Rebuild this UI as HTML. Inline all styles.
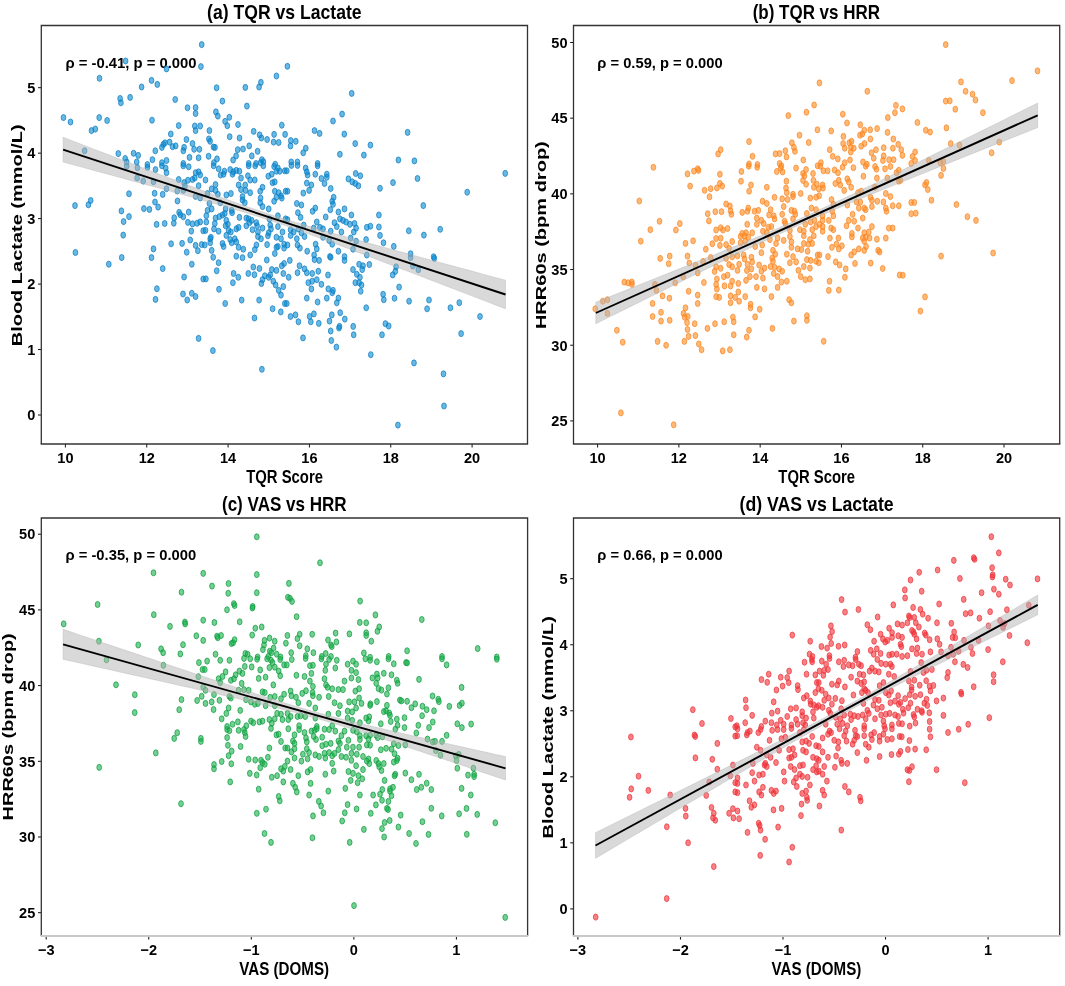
<!DOCTYPE html><html><head><meta charset="utf-8"><style>html,body{margin:0;padding:0;background:#fff;width:1065px;height:986px;overflow:hidden}svg{display:block}text{font-family:"Liberation Sans",sans-serif;font-weight:bold}</style></head><body>
<svg style="will-change:transform" width="1065" height="986" viewBox="0 0 1065 986">
<rect width="1065" height="986" fill="#fff"/>
<text transform="translate(207.12,18.90) scale(0.8867,1)" font-size="19.86" fill="#000">(a) TQR vs Lactate</text>
<text transform="translate(65.41,67.50) scale(1.0604,1)" font-size="14.00" fill="#000">ρ = -0.41, p = 0.000</text>
<text transform="translate(246.15,482.70) scale(0.8406,1)" font-size="17.68" fill="#000">TQR Score</text>
<text transform="translate(21.50,346.30) rotate(-90) scale(0.9995,0.7101)" font-size="20.00">Blood Lactate (mmol/L)</text>
<text x="65.40" y="462.80" font-size="15" text-anchor="middle" transform="translate(1.96,0) scale(0.97,1)">10</text>
<text x="146.74" y="462.80" font-size="15" text-anchor="middle" transform="translate(4.40,0) scale(0.97,1)">12</text>
<text x="228.08" y="462.80" font-size="15" text-anchor="middle" transform="translate(6.84,0) scale(0.97,1)">14</text>
<text x="309.42" y="462.80" font-size="15" text-anchor="middle" transform="translate(9.28,0) scale(0.97,1)">16</text>
<text x="390.76" y="462.80" font-size="15" text-anchor="middle" transform="translate(11.72,0) scale(0.97,1)">18</text>
<text x="472.10" y="462.80" font-size="15" text-anchor="middle" transform="translate(14.16,0) scale(0.97,1)">20</text>
<text x="35.30" y="420.30" font-size="15" text-anchor="end" transform="translate(1.06,0) scale(0.97,1)">0</text>
<text x="35.30" y="354.84" font-size="15" text-anchor="end" transform="translate(1.06,0) scale(0.97,1)">1</text>
<text x="35.30" y="289.38" font-size="15" text-anchor="end" transform="translate(1.06,0) scale(0.97,1)">2</text>
<text x="35.30" y="223.92" font-size="15" text-anchor="end" transform="translate(1.06,0) scale(0.97,1)">3</text>
<text x="35.30" y="158.46" font-size="15" text-anchor="end" transform="translate(1.06,0) scale(0.97,1)">4</text>
<text x="35.30" y="93.00" font-size="15" text-anchor="end" transform="translate(1.06,0) scale(0.97,1)">5</text>
<path d="M65.40 443.90v3.6 M146.74 443.90v3.6 M228.08 443.90v3.6 M309.42 443.90v3.6 M390.76 443.90v3.6 M472.10 443.90v3.6 M41.30 415.00h-3.3 M41.30 349.54h-3.3 M41.30 284.08h-3.3 M41.30 218.62h-3.3 M41.30 153.16h-3.3 M41.30 87.70h-3.3" stroke="#111" stroke-width="1" fill="none"/>
<g fill="rgb(0,138,208)" fill-opacity="0.6" stroke="rgb(20,125,195)" stroke-opacity="0.75" stroke-width="1.0"><ellipse cx="201.7" cy="44.6" rx="2.35" ry="3.05"/><ellipse cx="200.9" cy="66.6" rx="2.35" ry="3.05"/><ellipse cx="125.6" cy="61.0" rx="2.35" ry="3.05"/><ellipse cx="166.5" cy="68.9" rx="2.35" ry="3.05"/><ellipse cx="99.5" cy="78.3" rx="2.35" ry="3.05"/><ellipse cx="141.6" cy="87.0" rx="2.35" ry="3.05"/><ellipse cx="151.5" cy="80.4" rx="2.35" ry="3.05"/><ellipse cx="157.3" cy="84.4" rx="2.35" ry="3.05"/><ellipse cx="120.1" cy="98.5" rx="2.35" ry="3.05"/><ellipse cx="120.9" cy="102.8" rx="2.35" ry="3.05"/><ellipse cx="130.1" cy="97.4" rx="2.35" ry="3.05"/><ellipse cx="175.2" cy="99.5" rx="2.35" ry="3.05"/><ellipse cx="187.5" cy="107.8" rx="2.35" ry="3.05"/><ellipse cx="195.6" cy="107.6" rx="2.35" ry="3.05"/><ellipse cx="195.6" cy="113.5" rx="2.35" ry="3.05"/><ellipse cx="63.5" cy="117.6" rx="2.35" ry="3.05"/><ellipse cx="70.5" cy="122.0" rx="2.35" ry="3.05"/><ellipse cx="99.2" cy="117.6" rx="2.35" ry="3.05"/><ellipse cx="107.1" cy="120.5" rx="2.35" ry="3.05"/><ellipse cx="152.0" cy="120.2" rx="2.35" ry="3.05"/><ellipse cx="91.5" cy="130.6" rx="2.35" ry="3.05"/><ellipse cx="95.3" cy="129.1" rx="2.35" ry="3.05"/><ellipse cx="178.7" cy="125.6" rx="2.35" ry="3.05"/><ellipse cx="194.8" cy="126.0" rx="2.35" ry="3.05"/><ellipse cx="200.2" cy="126.0" rx="2.35" ry="3.05"/><ellipse cx="195.6" cy="130.6" rx="2.35" ry="3.05"/><ellipse cx="170.8" cy="134.0" rx="2.35" ry="3.05"/><ellipse cx="186.4" cy="139.5" rx="2.35" ry="3.05"/><ellipse cx="169.6" cy="142.1" rx="2.35" ry="3.05"/><ellipse cx="163.4" cy="144.4" rx="2.35" ry="3.05"/><ellipse cx="165.0" cy="142.8" rx="2.35" ry="3.05"/><ellipse cx="161.9" cy="147.4" rx="2.35" ry="3.05"/><ellipse cx="172.6" cy="146.7" rx="2.35" ry="3.05"/><ellipse cx="175.7" cy="145.9" rx="2.35" ry="3.05"/><ellipse cx="184.1" cy="147.4" rx="2.35" ry="3.05"/><ellipse cx="183.3" cy="150.8" rx="2.35" ry="3.05"/><ellipse cx="192.5" cy="143.6" rx="2.35" ry="3.05"/><ellipse cx="194.1" cy="149.3" rx="2.35" ry="3.05"/><ellipse cx="199.4" cy="149.3" rx="2.35" ry="3.05"/><ellipse cx="84.6" cy="150.8" rx="2.35" ry="3.05"/><ellipse cx="118.3" cy="153.6" rx="2.35" ry="3.05"/><ellipse cx="133.6" cy="153.3" rx="2.35" ry="3.05"/><ellipse cx="138.2" cy="155.4" rx="2.35" ry="3.05"/><ellipse cx="155.3" cy="150.8" rx="2.35" ry="3.05"/><ellipse cx="125.2" cy="158.5" rx="2.35" ry="3.05"/><ellipse cx="126.7" cy="162.0" rx="2.35" ry="3.05"/><ellipse cx="136.7" cy="162.0" rx="2.35" ry="3.05"/><ellipse cx="152.4" cy="159.7" rx="2.35" ry="3.05"/><ellipse cx="189.5" cy="157.4" rx="2.35" ry="3.05"/><ellipse cx="198.6" cy="157.8" rx="2.35" ry="3.05"/><ellipse cx="166.5" cy="160.5" rx="2.35" ry="3.05"/><ellipse cx="161.9" cy="162.7" rx="2.35" ry="3.05"/><ellipse cx="147.4" cy="164.6" rx="2.35" ry="3.05"/><ellipse cx="183.3" cy="163.5" rx="2.35" ry="3.05"/><ellipse cx="287.4" cy="66.3" rx="2.35" ry="3.05"/><ellipse cx="276.4" cy="76.0" rx="2.35" ry="3.05"/><ellipse cx="260.9" cy="82.4" rx="2.35" ry="3.05"/><ellipse cx="259.1" cy="87.0" rx="2.35" ry="3.05"/><ellipse cx="245.3" cy="87.4" rx="2.35" ry="3.05"/><ellipse cx="216.6" cy="87.8" rx="2.35" ry="3.05"/><ellipse cx="351.7" cy="93.4" rx="2.35" ry="3.05"/><ellipse cx="222.4" cy="101.1" rx="2.35" ry="3.05"/><ellipse cx="246.9" cy="106.1" rx="2.35" ry="3.05"/><ellipse cx="215.9" cy="111.9" rx="2.35" ry="3.05"/><ellipse cx="217.8" cy="116.1" rx="2.35" ry="3.05"/><ellipse cx="229.3" cy="117.3" rx="2.35" ry="3.05"/><ellipse cx="225.1" cy="121.4" rx="2.35" ry="3.05"/><ellipse cx="227.3" cy="125.7" rx="2.35" ry="3.05"/><ellipse cx="238.0" cy="124.5" rx="2.35" ry="3.05"/><ellipse cx="281.8" cy="125.2" rx="2.35" ry="3.05"/><ellipse cx="342.1" cy="114.1" rx="2.35" ry="3.05"/><ellipse cx="333.0" cy="121.0" rx="2.35" ry="3.05"/><ellipse cx="209.4" cy="130.6" rx="2.35" ry="3.05"/><ellipse cx="253.7" cy="131.4" rx="2.35" ry="3.05"/><ellipse cx="259.6" cy="134.9" rx="2.35" ry="3.05"/><ellipse cx="261.4" cy="138.0" rx="2.35" ry="3.05"/><ellipse cx="267.1" cy="139.5" rx="2.35" ry="3.05"/><ellipse cx="274.1" cy="134.4" rx="2.35" ry="3.05"/><ellipse cx="273.6" cy="142.1" rx="2.35" ry="3.05"/><ellipse cx="278.7" cy="142.5" rx="2.35" ry="3.05"/><ellipse cx="285.1" cy="134.4" rx="2.35" ry="3.05"/><ellipse cx="290.8" cy="140.6" rx="2.35" ry="3.05"/><ellipse cx="295.8" cy="141.3" rx="2.35" ry="3.05"/><ellipse cx="290.5" cy="145.9" rx="2.35" ry="3.05"/><ellipse cx="314.5" cy="130.6" rx="2.35" ry="3.05"/><ellipse cx="319.6" cy="133.4" rx="2.35" ry="3.05"/><ellipse cx="344.3" cy="134.1" rx="2.35" ry="3.05"/><ellipse cx="355.2" cy="143.6" rx="2.35" ry="3.05"/><ellipse cx="229.7" cy="136.7" rx="2.35" ry="3.05"/><ellipse cx="239.5" cy="138.0" rx="2.35" ry="3.05"/><ellipse cx="208.9" cy="139.0" rx="2.35" ry="3.05"/><ellipse cx="210.1" cy="141.3" rx="2.35" ry="3.05"/><ellipse cx="213.5" cy="147.1" rx="2.35" ry="3.05"/><ellipse cx="215.0" cy="147.4" rx="2.35" ry="3.05"/><ellipse cx="249.2" cy="145.9" rx="2.35" ry="3.05"/><ellipse cx="243.0" cy="149.0" rx="2.35" ry="3.05"/><ellipse cx="237.7" cy="149.7" rx="2.35" ry="3.05"/><ellipse cx="236.1" cy="155.9" rx="2.35" ry="3.05"/><ellipse cx="233.1" cy="160.0" rx="2.35" ry="3.05"/><ellipse cx="251.8" cy="155.9" rx="2.35" ry="3.05"/><ellipse cx="257.6" cy="151.3" rx="2.35" ry="3.05"/><ellipse cx="208.6" cy="156.3" rx="2.35" ry="3.05"/><ellipse cx="217.0" cy="158.9" rx="2.35" ry="3.05"/><ellipse cx="213.9" cy="162.7" rx="2.35" ry="3.05"/><ellipse cx="261.9" cy="159.7" rx="2.35" ry="3.05"/><ellipse cx="260.6" cy="162.7" rx="2.35" ry="3.05"/><ellipse cx="263.4" cy="161.7" rx="2.35" ry="3.05"/><ellipse cx="248.7" cy="163.5" rx="2.35" ry="3.05"/><ellipse cx="256.0" cy="163.5" rx="2.35" ry="3.05"/><ellipse cx="275.2" cy="164.3" rx="2.35" ry="3.05"/><ellipse cx="291.2" cy="162.0" rx="2.35" ry="3.05"/><ellipse cx="297.4" cy="162.0" rx="2.35" ry="3.05"/><ellipse cx="305.8" cy="148.2" rx="2.35" ry="3.05"/><ellipse cx="303.2" cy="152.8" rx="2.35" ry="3.05"/><ellipse cx="317.6" cy="163.5" rx="2.35" ry="3.05"/><ellipse cx="339.9" cy="154.3" rx="2.35" ry="3.05"/><ellipse cx="363.9" cy="155.1" rx="2.35" ry="3.05"/><ellipse cx="407.6" cy="132.4" rx="2.35" ry="3.05"/><ellipse cx="370.4" cy="145.1" rx="2.35" ry="3.05"/><ellipse cx="398.4" cy="160.0" rx="2.35" ry="3.05"/><ellipse cx="414.4" cy="160.9" rx="2.35" ry="3.05"/><ellipse cx="126.7" cy="166.2" rx="2.35" ry="3.05"/><ellipse cx="137.4" cy="167.8" rx="2.35" ry="3.05"/><ellipse cx="147.4" cy="167.3" rx="2.35" ry="3.05"/><ellipse cx="155.5" cy="169.6" rx="2.35" ry="3.05"/><ellipse cx="161.9" cy="165.8" rx="2.35" ry="3.05"/><ellipse cx="165.7" cy="168.1" rx="2.35" ry="3.05"/><ellipse cx="166.5" cy="172.7" rx="2.35" ry="3.05"/><ellipse cx="183.3" cy="165.8" rx="2.35" ry="3.05"/><ellipse cx="188.7" cy="166.8" rx="2.35" ry="3.05"/><ellipse cx="195.6" cy="172.7" rx="2.35" ry="3.05"/><ellipse cx="198.6" cy="171.9" rx="2.35" ry="3.05"/><ellipse cx="200.2" cy="174.9" rx="2.35" ry="3.05"/><ellipse cx="137.1" cy="178.0" rx="2.35" ry="3.05"/><ellipse cx="143.2" cy="181.1" rx="2.35" ry="3.05"/><ellipse cx="153.5" cy="181.8" rx="2.35" ry="3.05"/><ellipse cx="178.7" cy="179.5" rx="2.35" ry="3.05"/><ellipse cx="184.1" cy="182.6" rx="2.35" ry="3.05"/><ellipse cx="187.9" cy="180.3" rx="2.35" ry="3.05"/><ellipse cx="192.5" cy="179.5" rx="2.35" ry="3.05"/><ellipse cx="194.8" cy="178.0" rx="2.35" ry="3.05"/><ellipse cx="198.6" cy="185.7" rx="2.35" ry="3.05"/><ellipse cx="184.9" cy="186.4" rx="2.35" ry="3.05"/><ellipse cx="166.5" cy="188.7" rx="2.35" ry="3.05"/><ellipse cx="177.2" cy="191.0" rx="2.35" ry="3.05"/><ellipse cx="183.3" cy="190.3" rx="2.35" ry="3.05"/><ellipse cx="129.0" cy="193.8" rx="2.35" ry="3.05"/><ellipse cx="154.6" cy="193.3" rx="2.35" ry="3.05"/><ellipse cx="162.7" cy="194.4" rx="2.35" ry="3.05"/><ellipse cx="195.6" cy="196.4" rx="2.35" ry="3.05"/><ellipse cx="200.2" cy="197.9" rx="2.35" ry="3.05"/><ellipse cx="177.5" cy="201.0" rx="2.35" ry="3.05"/><ellipse cx="75.0" cy="205.6" rx="2.35" ry="3.05"/><ellipse cx="88.4" cy="204.8" rx="2.35" ry="3.05"/><ellipse cx="90.7" cy="200.5" rx="2.35" ry="3.05"/><ellipse cx="121.4" cy="210.9" rx="2.35" ry="3.05"/><ellipse cx="129.0" cy="216.6" rx="2.35" ry="3.05"/><ellipse cx="123.6" cy="221.6" rx="2.35" ry="3.05"/><ellipse cx="143.9" cy="208.6" rx="2.35" ry="3.05"/><ellipse cx="149.4" cy="209.4" rx="2.35" ry="3.05"/><ellipse cx="155.0" cy="202.0" rx="2.35" ry="3.05"/><ellipse cx="158.1" cy="207.1" rx="2.35" ry="3.05"/><ellipse cx="179.1" cy="212.4" rx="2.35" ry="3.05"/><ellipse cx="183.3" cy="216.7" rx="2.35" ry="3.05"/><ellipse cx="188.7" cy="212.1" rx="2.35" ry="3.05"/><ellipse cx="174.2" cy="217.8" rx="2.35" ry="3.05"/><ellipse cx="173.8" cy="223.2" rx="2.35" ry="3.05"/><ellipse cx="180.3" cy="214.7" rx="2.35" ry="3.05"/><ellipse cx="187.9" cy="222.4" rx="2.35" ry="3.05"/><ellipse cx="192.5" cy="223.9" rx="2.35" ry="3.05"/><ellipse cx="197.1" cy="223.2" rx="2.35" ry="3.05"/><ellipse cx="200.2" cy="221.9" rx="2.35" ry="3.05"/><ellipse cx="156.6" cy="224.4" rx="2.35" ry="3.05"/><ellipse cx="164.7" cy="223.5" rx="2.35" ry="3.05"/><ellipse cx="191.3" cy="231.1" rx="2.35" ry="3.05"/><ellipse cx="203.2" cy="230.8" rx="2.35" ry="3.05"/><ellipse cx="123.2" cy="235.1" rx="2.35" ry="3.05"/><ellipse cx="171.1" cy="243.8" rx="2.35" ry="3.05"/><ellipse cx="182.1" cy="243.4" rx="2.35" ry="3.05"/><ellipse cx="190.2" cy="240.0" rx="2.35" ry="3.05"/><ellipse cx="195.6" cy="245.4" rx="2.35" ry="3.05"/><ellipse cx="201.7" cy="244.6" rx="2.35" ry="3.05"/><ellipse cx="197.9" cy="250.7" rx="2.35" ry="3.05"/><ellipse cx="186.7" cy="252.2" rx="2.35" ry="3.05"/><ellipse cx="153.5" cy="248.9" rx="2.35" ry="3.05"/><ellipse cx="75.4" cy="252.5" rx="2.35" ry="3.05"/><ellipse cx="121.7" cy="257.6" rx="2.35" ry="3.05"/><ellipse cx="151.5" cy="257.6" rx="2.35" ry="3.05"/><ellipse cx="108.8" cy="264.2" rx="2.35" ry="3.05"/><ellipse cx="191.8" cy="264.2" rx="2.35" ry="3.05"/><ellipse cx="162.7" cy="268.6" rx="2.35" ry="3.05"/><ellipse cx="184.1" cy="277.0" rx="2.35" ry="3.05"/><ellipse cx="203.2" cy="279.0" rx="2.35" ry="3.05"/><ellipse cx="156.9" cy="288.7" rx="2.35" ry="3.05"/><ellipse cx="183.0" cy="294.0" rx="2.35" ry="3.05"/><ellipse cx="191.8" cy="293.3" rx="2.35" ry="3.05"/><ellipse cx="195.6" cy="296.6" rx="2.35" ry="3.05"/><ellipse cx="187.2" cy="300.0" rx="2.35" ry="3.05"/><ellipse cx="155.5" cy="299.4" rx="2.35" ry="3.05"/><ellipse cx="505.2" cy="173.4" rx="2.35" ry="3.05"/><ellipse cx="417.5" cy="178.5" rx="2.35" ry="3.05"/><ellipse cx="393.0" cy="182.6" rx="2.35" ry="3.05"/><ellipse cx="380.0" cy="188.3" rx="2.35" ry="3.05"/><ellipse cx="467.2" cy="192.2" rx="2.35" ry="3.05"/><ellipse cx="423.3" cy="205.6" rx="2.35" ry="3.05"/><ellipse cx="378.9" cy="215.0" rx="2.35" ry="3.05"/><ellipse cx="370.4" cy="226.2" rx="2.35" ry="3.05"/><ellipse cx="378.9" cy="227.0" rx="2.35" ry="3.05"/><ellipse cx="408.8" cy="230.8" rx="2.35" ry="3.05"/><ellipse cx="423.9" cy="235.1" rx="2.35" ry="3.05"/><ellipse cx="440.2" cy="229.3" rx="2.35" ry="3.05"/><ellipse cx="380.0" cy="235.4" rx="2.35" ry="3.05"/><ellipse cx="383.5" cy="242.8" rx="2.35" ry="3.05"/><ellipse cx="393.8" cy="246.4" rx="2.35" ry="3.05"/><ellipse cx="410.6" cy="253.8" rx="2.35" ry="3.05"/><ellipse cx="410.6" cy="257.6" rx="2.35" ry="3.05"/><ellipse cx="434.3" cy="258.4" rx="2.35" ry="3.05"/><ellipse cx="433.6" cy="256.8" rx="2.35" ry="3.05"/><ellipse cx="369.3" cy="264.5" rx="2.35" ry="3.05"/><ellipse cx="396.1" cy="266.8" rx="2.35" ry="3.05"/><ellipse cx="395.3" cy="271.4" rx="2.35" ry="3.05"/><ellipse cx="392.7" cy="274.9" rx="2.35" ry="3.05"/><ellipse cx="412.9" cy="266.0" rx="2.35" ry="3.05"/><ellipse cx="418.3" cy="269.8" rx="2.35" ry="3.05"/><ellipse cx="399.1" cy="287.1" rx="2.35" ry="3.05"/><ellipse cx="383.1" cy="294.3" rx="2.35" ry="3.05"/><ellipse cx="383.8" cy="299.7" rx="2.35" ry="3.05"/><ellipse cx="394.5" cy="298.2" rx="2.35" ry="3.05"/><ellipse cx="409.1" cy="301.2" rx="2.35" ry="3.05"/><ellipse cx="429.0" cy="300.0" rx="2.35" ry="3.05"/><ellipse cx="459.3" cy="302.7" rx="2.35" ry="3.05"/><ellipse cx="198.6" cy="338.4" rx="2.35" ry="3.05"/><ellipse cx="272.6" cy="308.8" rx="2.35" ry="3.05"/><ellipse cx="280.8" cy="311.9" rx="2.35" ry="3.05"/><ellipse cx="254.5" cy="318.0" rx="2.35" ry="3.05"/><ellipse cx="290.5" cy="316.5" rx="2.35" ry="3.05"/><ellipse cx="295.5" cy="314.9" rx="2.35" ry="3.05"/><ellipse cx="298.4" cy="321.8" rx="2.35" ry="3.05"/><ellipse cx="309.6" cy="316.5" rx="2.35" ry="3.05"/><ellipse cx="313.9" cy="313.9" rx="2.35" ry="3.05"/><ellipse cx="310.8" cy="321.8" rx="2.35" ry="3.05"/><ellipse cx="318.8" cy="323.4" rx="2.35" ry="3.05"/><ellipse cx="331.8" cy="314.9" rx="2.35" ry="3.05"/><ellipse cx="329.5" cy="321.1" rx="2.35" ry="3.05"/><ellipse cx="340.2" cy="312.7" rx="2.35" ry="3.05"/><ellipse cx="344.8" cy="319.1" rx="2.35" ry="3.05"/><ellipse cx="339.5" cy="326.4" rx="2.35" ry="3.05"/><ellipse cx="339.0" cy="328.0" rx="2.35" ry="3.05"/><ellipse cx="353.2" cy="326.4" rx="2.35" ry="3.05"/><ellipse cx="353.7" cy="334.8" rx="2.35" ry="3.05"/><ellipse cx="330.7" cy="331.0" rx="2.35" ry="3.05"/><ellipse cx="331.3" cy="340.5" rx="2.35" ry="3.05"/><ellipse cx="336.4" cy="347.1" rx="2.35" ry="3.05"/><ellipse cx="303.0" cy="337.9" rx="2.35" ry="3.05"/><ellipse cx="212.9" cy="350.6" rx="2.35" ry="3.05"/><ellipse cx="261.9" cy="369.3" rx="2.35" ry="3.05"/><ellipse cx="366.2" cy="307.8" rx="2.35" ry="3.05"/><ellipse cx="427.1" cy="308.8" rx="2.35" ry="3.05"/><ellipse cx="450.4" cy="307.8" rx="2.35" ry="3.05"/><ellipse cx="480.0" cy="316.5" rx="2.35" ry="3.05"/><ellipse cx="385.4" cy="323.7" rx="2.35" ry="3.05"/><ellipse cx="388.7" cy="326.0" rx="2.35" ry="3.05"/><ellipse cx="382.0" cy="334.8" rx="2.35" ry="3.05"/><ellipse cx="461.1" cy="333.6" rx="2.35" ry="3.05"/><ellipse cx="370.8" cy="354.7" rx="2.35" ry="3.05"/><ellipse cx="414.0" cy="362.9" rx="2.35" ry="3.05"/><ellipse cx="443.5" cy="373.9" rx="2.35" ry="3.05"/><ellipse cx="444.0" cy="406.0" rx="2.35" ry="3.05"/><ellipse cx="397.9" cy="425.1" rx="2.35" ry="3.05"/><ellipse cx="213.6" cy="165.8" rx="2.35" ry="3.05"/><ellipse cx="218.6" cy="168.8" rx="2.35" ry="3.05"/><ellipse cx="220.6" cy="175.0" rx="2.35" ry="3.05"/><ellipse cx="223.6" cy="174.2" rx="2.35" ry="3.05"/><ellipse cx="224.4" cy="171.2" rx="2.35" ry="3.05"/><ellipse cx="230.2" cy="169.6" rx="2.35" ry="3.05"/><ellipse cx="233.3" cy="171.9" rx="2.35" ry="3.05"/><ellipse cx="236.3" cy="170.4" rx="2.35" ry="3.05"/><ellipse cx="239.4" cy="171.2" rx="2.35" ry="3.05"/><ellipse cx="232.5" cy="174.2" rx="2.35" ry="3.05"/><ellipse cx="241.0" cy="178.1" rx="2.35" ry="3.05"/><ellipse cx="247.9" cy="175.8" rx="2.35" ry="3.05"/><ellipse cx="250.2" cy="180.0" rx="2.35" ry="3.05"/><ellipse cx="254.8" cy="180.0" rx="2.35" ry="3.05"/><ellipse cx="248.7" cy="165.8" rx="2.35" ry="3.05"/><ellipse cx="255.2" cy="165.8" rx="2.35" ry="3.05"/><ellipse cx="263.3" cy="165.8" rx="2.35" ry="3.05"/><ellipse cx="274.1" cy="166.5" rx="2.35" ry="3.05"/><ellipse cx="277.9" cy="168.1" rx="2.35" ry="3.05"/><ellipse cx="279.8" cy="171.2" rx="2.35" ry="3.05"/><ellipse cx="276.4" cy="171.2" rx="2.35" ry="3.05"/><ellipse cx="284.8" cy="170.8" rx="2.35" ry="3.05"/><ellipse cx="268.3" cy="176.2" rx="2.35" ry="3.05"/><ellipse cx="271.8" cy="174.2" rx="2.35" ry="3.05"/><ellipse cx="205.5" cy="180.0" rx="2.35" ry="3.05"/><ellipse cx="215.5" cy="184.6" rx="2.35" ry="3.05"/><ellipse cx="211.7" cy="188.9" rx="2.35" ry="3.05"/><ellipse cx="215.5" cy="190.4" rx="2.35" ry="3.05"/><ellipse cx="217.9" cy="194.3" rx="2.35" ry="3.05"/><ellipse cx="207.5" cy="193.5" rx="2.35" ry="3.05"/><ellipse cx="226.3" cy="195.0" rx="2.35" ry="3.05"/><ellipse cx="230.9" cy="193.5" rx="2.35" ry="3.05"/><ellipse cx="238.6" cy="185.0" rx="2.35" ry="3.05"/><ellipse cx="245.2" cy="185.0" rx="2.35" ry="3.05"/><ellipse cx="241.0" cy="189.6" rx="2.35" ry="3.05"/><ellipse cx="245.6" cy="190.4" rx="2.35" ry="3.05"/><ellipse cx="250.2" cy="192.7" rx="2.35" ry="3.05"/><ellipse cx="242.5" cy="196.6" rx="2.35" ry="3.05"/><ellipse cx="242.5" cy="200.0" rx="2.35" ry="3.05"/><ellipse cx="244.8" cy="202.7" rx="2.35" ry="3.05"/><ellipse cx="262.5" cy="187.3" rx="2.35" ry="3.05"/><ellipse cx="260.2" cy="191.2" rx="2.35" ry="3.05"/><ellipse cx="260.6" cy="198.1" rx="2.35" ry="3.05"/><ellipse cx="260.2" cy="202.7" rx="2.35" ry="3.05"/><ellipse cx="262.5" cy="206.6" rx="2.35" ry="3.05"/><ellipse cx="272.5" cy="182.7" rx="2.35" ry="3.05"/><ellipse cx="274.8" cy="181.9" rx="2.35" ry="3.05"/><ellipse cx="274.8" cy="191.2" rx="2.35" ry="3.05"/><ellipse cx="278.7" cy="192.7" rx="2.35" ry="3.05"/><ellipse cx="281.0" cy="195.8" rx="2.35" ry="3.05"/><ellipse cx="276.4" cy="197.3" rx="2.35" ry="3.05"/><ellipse cx="281.8" cy="198.1" rx="2.35" ry="3.05"/><ellipse cx="274.1" cy="201.2" rx="2.35" ry="3.05"/><ellipse cx="285.6" cy="191.2" rx="2.35" ry="3.05"/><ellipse cx="268.7" cy="208.9" rx="2.35" ry="3.05"/><ellipse cx="209.4" cy="203.5" rx="2.35" ry="3.05"/><ellipse cx="211.7" cy="208.9" rx="2.35" ry="3.05"/><ellipse cx="207.5" cy="210.4" rx="2.35" ry="3.05"/><ellipse cx="206.3" cy="215.8" rx="2.35" ry="3.05"/><ellipse cx="206.3" cy="222.0" rx="2.35" ry="3.05"/><ellipse cx="205.5" cy="230.4" rx="2.35" ry="3.05"/><ellipse cx="220.2" cy="202.7" rx="2.35" ry="3.05"/><ellipse cx="225.6" cy="208.9" rx="2.35" ry="3.05"/><ellipse cx="231.7" cy="210.4" rx="2.35" ry="3.05"/><ellipse cx="232.1" cy="212.7" rx="2.35" ry="3.05"/><ellipse cx="219.4" cy="216.6" rx="2.35" ry="3.05"/><ellipse cx="222.5" cy="215.0" rx="2.35" ry="3.05"/><ellipse cx="224.8" cy="213.5" rx="2.35" ry="3.05"/><ellipse cx="215.5" cy="218.1" rx="2.35" ry="3.05"/><ellipse cx="214.8" cy="223.5" rx="2.35" ry="3.05"/><ellipse cx="214.0" cy="228.9" rx="2.35" ry="3.05"/><ellipse cx="218.6" cy="231.2" rx="2.35" ry="3.05"/><ellipse cx="226.3" cy="220.4" rx="2.35" ry="3.05"/><ellipse cx="227.9" cy="224.3" rx="2.35" ry="3.05"/><ellipse cx="225.6" cy="225.8" rx="2.35" ry="3.05"/><ellipse cx="228.6" cy="230.4" rx="2.35" ry="3.05"/><ellipse cx="230.9" cy="232.0" rx="2.35" ry="3.05"/><ellipse cx="239.4" cy="217.4" rx="2.35" ry="3.05"/><ellipse cx="236.3" cy="228.9" rx="2.35" ry="3.05"/><ellipse cx="238.6" cy="227.4" rx="2.35" ry="3.05"/><ellipse cx="246.3" cy="218.1" rx="2.35" ry="3.05"/><ellipse cx="248.7" cy="218.9" rx="2.35" ry="3.05"/><ellipse cx="249.4" cy="222.7" rx="2.35" ry="3.05"/><ellipse cx="251.7" cy="220.4" rx="2.35" ry="3.05"/><ellipse cx="246.3" cy="225.8" rx="2.35" ry="3.05"/><ellipse cx="252.5" cy="229.7" rx="2.35" ry="3.05"/><ellipse cx="256.4" cy="222.7" rx="2.35" ry="3.05"/><ellipse cx="257.1" cy="225.8" rx="2.35" ry="3.05"/><ellipse cx="257.9" cy="232.0" rx="2.35" ry="3.05"/><ellipse cx="262.5" cy="228.1" rx="2.35" ry="3.05"/><ellipse cx="269.4" cy="218.9" rx="2.35" ry="3.05"/><ellipse cx="270.2" cy="225.1" rx="2.35" ry="3.05"/><ellipse cx="271.0" cy="228.9" rx="2.35" ry="3.05"/><ellipse cx="268.7" cy="232.8" rx="2.35" ry="3.05"/><ellipse cx="277.9" cy="215.8" rx="2.35" ry="3.05"/><ellipse cx="277.9" cy="226.6" rx="2.35" ry="3.05"/><ellipse cx="282.5" cy="232.0" rx="2.35" ry="3.05"/><ellipse cx="285.6" cy="218.9" rx="2.35" ry="3.05"/><ellipse cx="291.4" cy="165.4" rx="2.35" ry="3.05"/><ellipse cx="297.5" cy="165.4" rx="2.35" ry="3.05"/><ellipse cx="317.6" cy="165.8" rx="2.35" ry="3.05"/><ellipse cx="286.8" cy="170.8" rx="2.35" ry="3.05"/><ellipse cx="305.6" cy="168.1" rx="2.35" ry="3.05"/><ellipse cx="306.8" cy="171.9" rx="2.35" ry="3.05"/><ellipse cx="307.6" cy="175.0" rx="2.35" ry="3.05"/><ellipse cx="315.3" cy="174.2" rx="2.35" ry="3.05"/><ellipse cx="321.4" cy="178.5" rx="2.35" ry="3.05"/><ellipse cx="326.8" cy="174.2" rx="2.35" ry="3.05"/><ellipse cx="326.8" cy="177.3" rx="2.35" ry="3.05"/><ellipse cx="324.5" cy="183.5" rx="2.35" ry="3.05"/><ellipse cx="330.7" cy="188.5" rx="2.35" ry="3.05"/><ellipse cx="306.8" cy="183.1" rx="2.35" ry="3.05"/><ellipse cx="311.4" cy="185.0" rx="2.35" ry="3.05"/><ellipse cx="309.1" cy="190.4" rx="2.35" ry="3.05"/><ellipse cx="303.3" cy="193.1" rx="2.35" ry="3.05"/><ellipse cx="287.5" cy="191.2" rx="2.35" ry="3.05"/><ellipse cx="348.4" cy="178.9" rx="2.35" ry="3.05"/><ellipse cx="352.2" cy="181.9" rx="2.35" ry="3.05"/><ellipse cx="355.3" cy="183.5" rx="2.35" ry="3.05"/><ellipse cx="358.4" cy="185.8" rx="2.35" ry="3.05"/><ellipse cx="355.7" cy="173.5" rx="2.35" ry="3.05"/><ellipse cx="360.3" cy="175.8" rx="2.35" ry="3.05"/><ellipse cx="333.7" cy="197.3" rx="2.35" ry="3.05"/><ellipse cx="332.2" cy="201.2" rx="2.35" ry="3.05"/><ellipse cx="333.0" cy="204.3" rx="2.35" ry="3.05"/><ellipse cx="296.8" cy="203.5" rx="2.35" ry="3.05"/><ellipse cx="301.4" cy="205.0" rx="2.35" ry="3.05"/><ellipse cx="315.3" cy="208.1" rx="2.35" ry="3.05"/><ellipse cx="312.6" cy="211.2" rx="2.35" ry="3.05"/><ellipse cx="330.3" cy="209.7" rx="2.35" ry="3.05"/><ellipse cx="338.4" cy="212.0" rx="2.35" ry="3.05"/><ellipse cx="344.5" cy="208.9" rx="2.35" ry="3.05"/><ellipse cx="351.4" cy="215.0" rx="2.35" ry="3.05"/><ellipse cx="325.7" cy="217.0" rx="2.35" ry="3.05"/><ellipse cx="297.9" cy="212.7" rx="2.35" ry="3.05"/><ellipse cx="300.6" cy="217.4" rx="2.35" ry="3.05"/><ellipse cx="316.8" cy="222.0" rx="2.35" ry="3.05"/><ellipse cx="313.7" cy="228.1" rx="2.35" ry="3.05"/><ellipse cx="319.9" cy="227.4" rx="2.35" ry="3.05"/><ellipse cx="323.0" cy="228.9" rx="2.35" ry="3.05"/><ellipse cx="334.5" cy="222.7" rx="2.35" ry="3.05"/><ellipse cx="336.8" cy="226.6" rx="2.35" ry="3.05"/><ellipse cx="339.9" cy="218.9" rx="2.35" ry="3.05"/><ellipse cx="343.0" cy="220.4" rx="2.35" ry="3.05"/><ellipse cx="346.1" cy="222.0" rx="2.35" ry="3.05"/><ellipse cx="349.9" cy="224.3" rx="2.35" ry="3.05"/><ellipse cx="354.5" cy="223.5" rx="2.35" ry="3.05"/><ellipse cx="356.1" cy="228.1" rx="2.35" ry="3.05"/><ellipse cx="353.8" cy="232.0" rx="2.35" ry="3.05"/><ellipse cx="366.8" cy="227.4" rx="2.35" ry="3.05"/><ellipse cx="341.4" cy="232.0" rx="2.35" ry="3.05"/><ellipse cx="330.7" cy="231.2" rx="2.35" ry="3.05"/><ellipse cx="287.5" cy="219.7" rx="2.35" ry="3.05"/><ellipse cx="290.6" cy="229.7" rx="2.35" ry="3.05"/><ellipse cx="298.3" cy="228.9" rx="2.35" ry="3.05"/><ellipse cx="303.7" cy="225.1" rx="2.35" ry="3.05"/><ellipse cx="293.7" cy="232.0" rx="2.35" ry="3.05"/><ellipse cx="301.4" cy="232.8" rx="2.35" ry="3.05"/><ellipse cx="210.2" cy="238.8" rx="2.35" ry="3.05"/><ellipse cx="210.2" cy="242.7" rx="2.35" ry="3.05"/><ellipse cx="210.9" cy="237.3" rx="2.35" ry="3.05"/><ellipse cx="222.5" cy="243.5" rx="2.35" ry="3.05"/><ellipse cx="223.6" cy="246.5" rx="2.35" ry="3.05"/><ellipse cx="230.2" cy="239.6" rx="2.35" ry="3.05"/><ellipse cx="231.7" cy="242.7" rx="2.35" ry="3.05"/><ellipse cx="234.8" cy="238.8" rx="2.35" ry="3.05"/><ellipse cx="236.3" cy="241.9" rx="2.35" ry="3.05"/><ellipse cx="238.6" cy="247.3" rx="2.35" ry="3.05"/><ellipse cx="243.3" cy="249.2" rx="2.35" ry="3.05"/><ellipse cx="226.3" cy="235.4" rx="2.35" ry="3.05"/><ellipse cx="257.9" cy="236.5" rx="2.35" ry="3.05"/><ellipse cx="261.0" cy="238.8" rx="2.35" ry="3.05"/><ellipse cx="256.4" cy="245.0" rx="2.35" ry="3.05"/><ellipse cx="254.8" cy="249.6" rx="2.35" ry="3.05"/><ellipse cx="250.2" cy="255.0" rx="2.35" ry="3.05"/><ellipse cx="267.1" cy="244.6" rx="2.35" ry="3.05"/><ellipse cx="267.9" cy="235.8" rx="2.35" ry="3.05"/><ellipse cx="276.4" cy="237.3" rx="2.35" ry="3.05"/><ellipse cx="281.0" cy="238.8" rx="2.35" ry="3.05"/><ellipse cx="276.4" cy="247.3" rx="2.35" ry="3.05"/><ellipse cx="277.9" cy="246.5" rx="2.35" ry="3.05"/><ellipse cx="284.1" cy="244.2" rx="2.35" ry="3.05"/><ellipse cx="284.1" cy="248.1" rx="2.35" ry="3.05"/><ellipse cx="274.8" cy="253.5" rx="2.35" ry="3.05"/><ellipse cx="204.8" cy="245.0" rx="2.35" ry="3.05"/><ellipse cx="211.7" cy="250.4" rx="2.35" ry="3.05"/><ellipse cx="213.2" cy="257.3" rx="2.35" ry="3.05"/><ellipse cx="218.6" cy="262.7" rx="2.35" ry="3.05"/><ellipse cx="216.7" cy="270.8" rx="2.35" ry="3.05"/><ellipse cx="205.9" cy="278.9" rx="2.35" ry="3.05"/><ellipse cx="236.3" cy="256.2" rx="2.35" ry="3.05"/><ellipse cx="242.5" cy="257.7" rx="2.35" ry="3.05"/><ellipse cx="266.8" cy="260.0" rx="2.35" ry="3.05"/><ellipse cx="253.3" cy="267.0" rx="2.35" ry="3.05"/><ellipse cx="259.4" cy="268.5" rx="2.35" ry="3.05"/><ellipse cx="248.3" cy="273.5" rx="2.35" ry="3.05"/><ellipse cx="254.4" cy="274.7" rx="2.35" ry="3.05"/><ellipse cx="233.6" cy="273.5" rx="2.35" ry="3.05"/><ellipse cx="238.3" cy="277.3" rx="2.35" ry="3.05"/><ellipse cx="232.9" cy="282.7" rx="2.35" ry="3.05"/><ellipse cx="284.1" cy="263.5" rx="2.35" ry="3.05"/><ellipse cx="281.8" cy="265.8" rx="2.35" ry="3.05"/><ellipse cx="271.8" cy="269.6" rx="2.35" ry="3.05"/><ellipse cx="276.4" cy="270.4" rx="2.35" ry="3.05"/><ellipse cx="283.3" cy="273.5" rx="2.35" ry="3.05"/><ellipse cx="264.8" cy="275.8" rx="2.35" ry="3.05"/><ellipse cx="268.7" cy="277.3" rx="2.35" ry="3.05"/><ellipse cx="270.2" cy="275.0" rx="2.35" ry="3.05"/><ellipse cx="262.5" cy="279.7" rx="2.35" ry="3.05"/><ellipse cx="261.4" cy="283.5" rx="2.35" ry="3.05"/><ellipse cx="273.3" cy="281.2" rx="2.35" ry="3.05"/><ellipse cx="275.6" cy="285.0" rx="2.35" ry="3.05"/><ellipse cx="283.3" cy="286.6" rx="2.35" ry="3.05"/><ellipse cx="278.7" cy="290.4" rx="2.35" ry="3.05"/><ellipse cx="281.0" cy="295.1" rx="2.35" ry="3.05"/><ellipse cx="219.0" cy="289.3" rx="2.35" ry="3.05"/><ellipse cx="241.7" cy="300.1" rx="2.35" ry="3.05"/><ellipse cx="259.1" cy="300.1" rx="2.35" ry="3.05"/><ellipse cx="225.2" cy="303.5" rx="2.35" ry="3.05"/><ellipse cx="284.8" cy="303.5" rx="2.35" ry="3.05"/><ellipse cx="290.6" cy="235.4" rx="2.35" ry="3.05"/><ellipse cx="296.8" cy="238.8" rx="2.35" ry="3.05"/><ellipse cx="304.5" cy="236.5" rx="2.35" ry="3.05"/><ellipse cx="287.5" cy="245.0" rx="2.35" ry="3.05"/><ellipse cx="297.5" cy="245.0" rx="2.35" ry="3.05"/><ellipse cx="299.9" cy="248.1" rx="2.35" ry="3.05"/><ellipse cx="307.2" cy="251.2" rx="2.35" ry="3.05"/><ellipse cx="315.6" cy="244.2" rx="2.35" ry="3.05"/><ellipse cx="316.8" cy="248.9" rx="2.35" ry="3.05"/><ellipse cx="323.0" cy="237.3" rx="2.35" ry="3.05"/><ellipse cx="329.1" cy="240.4" rx="2.35" ry="3.05"/><ellipse cx="332.2" cy="244.2" rx="2.35" ry="3.05"/><ellipse cx="338.4" cy="251.2" rx="2.35" ry="3.05"/><ellipse cx="350.7" cy="238.1" rx="2.35" ry="3.05"/><ellipse cx="356.1" cy="241.2" rx="2.35" ry="3.05"/><ellipse cx="353.0" cy="249.2" rx="2.35" ry="3.05"/><ellipse cx="366.1" cy="239.6" rx="2.35" ry="3.05"/><ellipse cx="366.8" cy="255.0" rx="2.35" ry="3.05"/><ellipse cx="314.1" cy="255.0" rx="2.35" ry="3.05"/><ellipse cx="314.5" cy="259.6" rx="2.35" ry="3.05"/><ellipse cx="319.1" cy="260.4" rx="2.35" ry="3.05"/><ellipse cx="330.7" cy="257.3" rx="2.35" ry="3.05"/><ellipse cx="329.9" cy="256.6" rx="2.35" ry="3.05"/><ellipse cx="344.5" cy="256.6" rx="2.35" ry="3.05"/><ellipse cx="344.5" cy="260.4" rx="2.35" ry="3.05"/><ellipse cx="289.8" cy="260.4" rx="2.35" ry="3.05"/><ellipse cx="299.5" cy="265.8" rx="2.35" ry="3.05"/><ellipse cx="297.5" cy="272.7" rx="2.35" ry="3.05"/><ellipse cx="304.5" cy="268.9" rx="2.35" ry="3.05"/><ellipse cx="306.8" cy="272.7" rx="2.35" ry="3.05"/><ellipse cx="312.2" cy="273.5" rx="2.35" ry="3.05"/><ellipse cx="318.3" cy="271.2" rx="2.35" ry="3.05"/><ellipse cx="328.0" cy="275.0" rx="2.35" ry="3.05"/><ellipse cx="288.7" cy="277.3" rx="2.35" ry="3.05"/><ellipse cx="353.0" cy="269.6" rx="2.35" ry="3.05"/><ellipse cx="359.1" cy="264.3" rx="2.35" ry="3.05"/><ellipse cx="363.0" cy="265.8" rx="2.35" ry="3.05"/><ellipse cx="362.2" cy="269.6" rx="2.35" ry="3.05"/><ellipse cx="356.8" cy="274.3" rx="2.35" ry="3.05"/><ellipse cx="359.9" cy="277.3" rx="2.35" ry="3.05"/><ellipse cx="355.3" cy="282.7" rx="2.35" ry="3.05"/><ellipse cx="359.1" cy="282.7" rx="2.35" ry="3.05"/><ellipse cx="361.5" cy="285.0" rx="2.35" ry="3.05"/><ellipse cx="360.7" cy="291.2" rx="2.35" ry="3.05"/><ellipse cx="308.3" cy="282.7" rx="2.35" ry="3.05"/><ellipse cx="312.2" cy="281.2" rx="2.35" ry="3.05"/><ellipse cx="316.8" cy="279.7" rx="2.35" ry="3.05"/><ellipse cx="321.4" cy="284.3" rx="2.35" ry="3.05"/><ellipse cx="311.4" cy="288.9" rx="2.35" ry="3.05"/><ellipse cx="328.3" cy="288.9" rx="2.35" ry="3.05"/><ellipse cx="333.0" cy="290.4" rx="2.35" ry="3.05"/><ellipse cx="332.2" cy="292.7" rx="2.35" ry="3.05"/><ellipse cx="306.8" cy="298.1" rx="2.35" ry="3.05"/><ellipse cx="317.6" cy="302.0" rx="2.35" ry="3.05"/><ellipse cx="326.8" cy="298.1" rx="2.35" ry="3.05"/><ellipse cx="338.4" cy="298.1" rx="2.35" ry="3.05"/><ellipse cx="336.8" cy="302.8" rx="2.35" ry="3.05"/><ellipse cx="286.8" cy="303.5" rx="2.35" ry="3.05"/></g>
<polygon points="63.1,137.3 70.6,140.2 78.1,143.1 85.6,146.0 93.1,148.9 100.6,151.7 108.1,154.6 115.6,157.5 123.1,160.4 130.6,163.2 138.1,166.1 145.6,168.9 153.1,171.8 160.6,174.7 168.1,177.5 175.6,180.3 183.1,183.2 190.6,186.0 198.1,188.8 205.6,191.6 213.1,194.4 220.6,197.2 228.1,199.9 235.6,202.6 243.1,205.3 250.6,207.9 258.1,210.5 265.6,213.0 273.1,215.4 280.6,217.8 288.0,220.1 295.5,222.4 303.0,224.6 310.5,226.8 318.0,228.9 325.5,231.1 333.0,233.2 340.5,235.3 348.0,237.4 355.5,239.5 363.0,241.5 370.5,243.6 378.0,245.7 385.5,247.7 393.0,249.8 400.5,251.8 408.0,253.8 415.5,255.9 423.0,257.9 430.5,260.0 438.0,262.0 445.5,264.0 453.0,266.1 460.5,268.1 468.0,270.1 475.5,272.1 483.0,274.2 490.5,276.2 498.0,278.2 505.5,280.2 505.5,308.8 498.0,305.9 490.5,303.0 483.0,300.1 475.5,297.2 468.0,294.3 460.5,291.5 453.0,288.6 445.5,285.7 438.0,282.8 430.5,280.0 423.0,277.1 415.5,274.2 408.0,271.3 400.5,268.5 393.0,265.6 385.5,262.8 378.0,259.9 370.5,257.1 363.0,254.2 355.5,251.4 348.0,248.5 340.5,245.7 333.0,242.9 325.5,240.1 318.0,237.4 310.5,234.6 303.0,231.9 295.5,229.2 288.0,226.6 280.6,224.0 273.1,221.4 265.6,219.0 258.1,216.6 250.6,214.2 243.1,211.9 235.6,209.7 228.1,207.5 220.6,205.3 213.1,203.2 205.6,201.0 198.1,198.9 190.6,196.8 183.1,194.8 175.6,192.7 168.1,190.6 160.6,188.6 153.1,186.5 145.6,184.4 138.1,182.4 130.6,180.4 123.1,178.3 115.6,176.3 108.1,174.2 100.6,172.2 93.1,170.2 85.6,168.1 78.1,166.1 70.6,164.1 63.1,162.0" fill="#b4b4b4" fill-opacity="0.5" stroke="#b4b4b4" stroke-opacity="0.5" stroke-width="0.8"/>
<line x1="63.1" y1="149.7" x2="505.5" y2="294.5" stroke="#000" stroke-width="1.9"/>
<path d="M41.3 443.9V25.5H527.5V443.9" stroke="#333" stroke-width="1.3" fill="none"/>
<path d="M40.699999999999996 443.9H528.1" stroke="#333" stroke-width="1.5" fill="none"/>
<text transform="translate(752.65,18.90) scale(0.8555,1)" font-size="19.86" fill="#000">(b) TQR vs HRR</text>
<text transform="translate(597.32,67.50) scale(1.0511,1)" font-size="14.00" fill="#000">ρ = 0.59, p = 0.000</text>
<text transform="translate(778.35,482.70) scale(0.8406,1)" font-size="17.68" fill="#000">TQR Score</text>
<text transform="translate(545.50,329.10) rotate(-90) scale(1.0005,0.7246)" font-size="20.00">HRR60s (bpm drop)</text>
<text x="597.60" y="462.80" font-size="15" text-anchor="middle" transform="translate(17.93,0) scale(0.97,1)">10</text>
<text x="678.88" y="462.80" font-size="15" text-anchor="middle" transform="translate(20.37,0) scale(0.97,1)">12</text>
<text x="760.16" y="462.80" font-size="15" text-anchor="middle" transform="translate(22.80,0) scale(0.97,1)">14</text>
<text x="841.44" y="462.80" font-size="15" text-anchor="middle" transform="translate(25.24,0) scale(0.97,1)">16</text>
<text x="922.72" y="462.80" font-size="15" text-anchor="middle" transform="translate(27.68,0) scale(0.97,1)">18</text>
<text x="1004.00" y="462.80" font-size="15" text-anchor="middle" transform="translate(30.12,0) scale(0.97,1)">20</text>
<text x="567.50" y="426.20" font-size="15" text-anchor="end" transform="translate(17.03,0) scale(0.97,1)">25</text>
<text x="567.50" y="350.52" font-size="15" text-anchor="end" transform="translate(17.03,0) scale(0.97,1)">30</text>
<text x="567.50" y="274.84" font-size="15" text-anchor="end" transform="translate(17.03,0) scale(0.97,1)">35</text>
<text x="567.50" y="199.16" font-size="15" text-anchor="end" transform="translate(17.03,0) scale(0.97,1)">40</text>
<text x="567.50" y="123.48" font-size="15" text-anchor="end" transform="translate(17.03,0) scale(0.97,1)">45</text>
<text x="567.50" y="47.80" font-size="15" text-anchor="end" transform="translate(17.03,0) scale(0.97,1)">50</text>
<path d="M597.60 443.90v3.6 M678.88 443.90v3.6 M760.16 443.90v3.6 M841.44 443.90v3.6 M922.72 443.90v3.6 M1004.00 443.90v3.6 M573.50 420.90h-3.3 M573.50 345.22h-3.3 M573.50 269.54h-3.3 M573.50 193.86h-3.3 M573.50 118.18h-3.3 M573.50 42.50h-3.3" stroke="#111" stroke-width="1" fill="none"/>
<g fill="rgb(255,138,28)" fill-opacity="0.6" stroke="rgb(248,135,40)" stroke-opacity="0.75" stroke-width="1.0"><ellipse cx="720.7" cy="149.7" rx="2.35" ry="3.05"/><ellipse cx="718.1" cy="153.9" rx="2.35" ry="3.05"/><ellipse cx="819.4" cy="82.9" rx="2.35" ry="3.05"/><ellipse cx="867.3" cy="91.3" rx="2.35" ry="3.05"/><ellipse cx="814.1" cy="105.0" rx="2.35" ry="3.05"/><ellipse cx="806.4" cy="112.2" rx="2.35" ry="3.05"/><ellipse cx="788.3" cy="115.6" rx="2.35" ry="3.05"/><ellipse cx="842.8" cy="114.2" rx="2.35" ry="3.05"/><ellipse cx="847.0" cy="123.0" rx="2.35" ry="3.05"/><ellipse cx="860.3" cy="124.8" rx="2.35" ry="3.05"/><ellipse cx="895.9" cy="105.4" rx="2.35" ry="3.05"/><ellipse cx="894.9" cy="112.7" rx="2.35" ry="3.05"/><ellipse cx="887.8" cy="117.6" rx="2.35" ry="3.05"/><ellipse cx="817.4" cy="129.8" rx="2.35" ry="3.05"/><ellipse cx="831.2" cy="130.9" rx="2.35" ry="3.05"/><ellipse cx="799.5" cy="135.2" rx="2.35" ry="3.05"/><ellipse cx="870.2" cy="129.8" rx="2.35" ry="3.05"/><ellipse cx="877.1" cy="128.6" rx="2.35" ry="3.05"/><ellipse cx="864.3" cy="130.3" rx="2.35" ry="3.05"/><ellipse cx="862.3" cy="134.0" rx="2.35" ry="3.05"/><ellipse cx="860.0" cy="135.2" rx="2.35" ry="3.05"/><ellipse cx="887.5" cy="132.4" rx="2.35" ry="3.05"/><ellipse cx="843.4" cy="136.4" rx="2.35" ry="3.05"/><ellipse cx="893.3" cy="139.0" rx="2.35" ry="3.05"/><ellipse cx="870.4" cy="139.0" rx="2.35" ry="3.05"/><ellipse cx="749.0" cy="141.6" rx="2.35" ry="3.05"/><ellipse cx="791.9" cy="142.8" rx="2.35" ry="3.05"/><ellipse cx="793.9" cy="147.4" rx="2.35" ry="3.05"/><ellipse cx="794.9" cy="151.3" rx="2.35" ry="3.05"/><ellipse cx="808.7" cy="142.5" rx="2.35" ry="3.05"/><ellipse cx="843.1" cy="143.6" rx="2.35" ry="3.05"/><ellipse cx="849.3" cy="142.8" rx="2.35" ry="3.05"/><ellipse cx="851.6" cy="141.3" rx="2.35" ry="3.05"/><ellipse cx="850.8" cy="147.4" rx="2.35" ry="3.05"/><ellipse cx="853.8" cy="148.2" rx="2.35" ry="3.05"/><ellipse cx="844.7" cy="148.2" rx="2.35" ry="3.05"/><ellipse cx="850.8" cy="152.0" rx="2.35" ry="3.05"/><ellipse cx="864.6" cy="143.6" rx="2.35" ry="3.05"/><ellipse cx="861.2" cy="146.2" rx="2.35" ry="3.05"/><ellipse cx="898.2" cy="144.4" rx="2.35" ry="3.05"/><ellipse cx="883.7" cy="147.7" rx="2.35" ry="3.05"/><ellipse cx="892.9" cy="148.2" rx="2.35" ry="3.05"/><ellipse cx="876.0" cy="149.7" rx="2.35" ry="3.05"/><ellipse cx="871.5" cy="152.8" rx="2.35" ry="3.05"/><ellipse cx="829.7" cy="149.7" rx="2.35" ry="3.05"/><ellipse cx="832.7" cy="156.3" rx="2.35" ry="3.05"/><ellipse cx="837.8" cy="158.9" rx="2.35" ry="3.05"/><ellipse cx="775.5" cy="153.9" rx="2.35" ry="3.05"/><ellipse cx="779.6" cy="153.6" rx="2.35" ry="3.05"/><ellipse cx="785.3" cy="150.8" rx="2.35" ry="3.05"/><ellipse cx="786.5" cy="156.9" rx="2.35" ry="3.05"/><ellipse cx="752.5" cy="156.3" rx="2.35" ry="3.05"/><ellipse cx="803.3" cy="160.0" rx="2.35" ry="3.05"/><ellipse cx="850.0" cy="160.0" rx="2.35" ry="3.05"/><ellipse cx="873.7" cy="158.2" rx="2.35" ry="3.05"/><ellipse cx="883.7" cy="155.9" rx="2.35" ry="3.05"/><ellipse cx="882.9" cy="160.5" rx="2.35" ry="3.05"/><ellipse cx="889.1" cy="159.7" rx="2.35" ry="3.05"/><ellipse cx="893.6" cy="159.7" rx="2.35" ry="3.05"/><ellipse cx="820.9" cy="162.7" rx="2.35" ry="3.05"/><ellipse cx="779.6" cy="163.5" rx="2.35" ry="3.05"/><ellipse cx="749.0" cy="164.0" rx="2.35" ry="3.05"/><ellipse cx="757.4" cy="164.6" rx="2.35" ry="3.05"/><ellipse cx="844.7" cy="162.7" rx="2.35" ry="3.05"/><ellipse cx="863.0" cy="162.0" rx="2.35" ry="3.05"/><ellipse cx="866.9" cy="164.3" rx="2.35" ry="3.05"/><ellipse cx="945.7" cy="44.6" rx="2.35" ry="3.05"/><ellipse cx="1037.5" cy="70.9" rx="2.35" ry="3.05"/><ellipse cx="1012.0" cy="80.6" rx="2.35" ry="3.05"/><ellipse cx="961.0" cy="81.9" rx="2.35" ry="3.05"/><ellipse cx="965.6" cy="91.3" rx="2.35" ry="3.05"/><ellipse cx="972.5" cy="94.2" rx="2.35" ry="3.05"/><ellipse cx="975.5" cy="100.0" rx="2.35" ry="3.05"/><ellipse cx="945.7" cy="101.1" rx="2.35" ry="3.05"/><ellipse cx="949.8" cy="100.8" rx="2.35" ry="3.05"/><ellipse cx="955.3" cy="109.2" rx="2.35" ry="3.05"/><ellipse cx="982.9" cy="112.7" rx="2.35" ry="3.05"/><ellipse cx="902.4" cy="108.9" rx="2.35" ry="3.05"/><ellipse cx="917.4" cy="122.5" rx="2.35" ry="3.05"/><ellipse cx="925.8" cy="130.3" rx="2.35" ry="3.05"/><ellipse cx="930.1" cy="132.1" rx="2.35" ry="3.05"/><ellipse cx="946.4" cy="127.9" rx="2.35" ry="3.05"/><ellipse cx="950.7" cy="143.6" rx="2.35" ry="3.05"/><ellipse cx="959.5" cy="145.1" rx="2.35" ry="3.05"/><ellipse cx="999.2" cy="142.1" rx="2.35" ry="3.05"/><ellipse cx="991.6" cy="152.8" rx="2.35" ry="3.05"/><ellipse cx="901.3" cy="149.7" rx="2.35" ry="3.05"/><ellipse cx="902.4" cy="155.4" rx="2.35" ry="3.05"/><ellipse cx="915.1" cy="152.0" rx="2.35" ry="3.05"/><ellipse cx="912.5" cy="156.6" rx="2.35" ry="3.05"/><ellipse cx="915.1" cy="160.5" rx="2.35" ry="3.05"/><ellipse cx="911.2" cy="163.5" rx="2.35" ry="3.05"/><ellipse cx="928.8" cy="160.5" rx="2.35" ry="3.05"/><ellipse cx="940.3" cy="162.7" rx="2.35" ry="3.05"/><ellipse cx="943.4" cy="161.7" rx="2.35" ry="3.05"/><ellipse cx="653.4" cy="167.3" rx="2.35" ry="3.05"/><ellipse cx="687.5" cy="173.9" rx="2.35" ry="3.05"/><ellipse cx="693.9" cy="171.1" rx="2.35" ry="3.05"/><ellipse cx="697.7" cy="168.8" rx="2.35" ry="3.05"/><ellipse cx="698.5" cy="170.4" rx="2.35" ry="3.05"/><ellipse cx="719.9" cy="174.2" rx="2.35" ry="3.05"/><ellipse cx="690.1" cy="186.1" rx="2.35" ry="3.05"/><ellipse cx="704.6" cy="190.3" rx="2.35" ry="3.05"/><ellipse cx="710.7" cy="188.7" rx="2.35" ry="3.05"/><ellipse cx="716.9" cy="188.0" rx="2.35" ry="3.05"/><ellipse cx="719.9" cy="183.4" rx="2.35" ry="3.05"/><ellipse cx="722.2" cy="186.1" rx="2.35" ry="3.05"/><ellipse cx="709.5" cy="196.8" rx="2.35" ry="3.05"/><ellipse cx="639.3" cy="201.0" rx="2.35" ry="3.05"/><ellipse cx="726.1" cy="204.0" rx="2.35" ry="3.05"/><ellipse cx="729.9" cy="206.0" rx="2.35" ry="3.05"/><ellipse cx="707.7" cy="213.7" rx="2.35" ry="3.05"/><ellipse cx="715.3" cy="211.7" rx="2.35" ry="3.05"/><ellipse cx="721.5" cy="211.7" rx="2.35" ry="3.05"/><ellipse cx="730.6" cy="210.9" rx="2.35" ry="3.05"/><ellipse cx="731.4" cy="214.3" rx="2.35" ry="3.05"/><ellipse cx="708.9" cy="220.9" rx="2.35" ry="3.05"/><ellipse cx="659.5" cy="221.3" rx="2.35" ry="3.05"/><ellipse cx="679.8" cy="223.6" rx="2.35" ry="3.05"/><ellipse cx="650.3" cy="229.7" rx="2.35" ry="3.05"/><ellipse cx="675.9" cy="230.0" rx="2.35" ry="3.05"/><ellipse cx="716.1" cy="230.0" rx="2.35" ry="3.05"/><ellipse cx="720.7" cy="227.8" rx="2.35" ry="3.05"/><ellipse cx="727.6" cy="228.5" rx="2.35" ry="3.05"/><ellipse cx="723.0" cy="230.0" rx="2.35" ry="3.05"/><ellipse cx="640.8" cy="241.2" rx="2.35" ry="3.05"/><ellipse cx="685.5" cy="243.4" rx="2.35" ry="3.05"/><ellipse cx="693.1" cy="240.8" rx="2.35" ry="3.05"/><ellipse cx="716.1" cy="238.5" rx="2.35" ry="3.05"/><ellipse cx="720.7" cy="238.2" rx="2.35" ry="3.05"/><ellipse cx="712.3" cy="243.8" rx="2.35" ry="3.05"/><ellipse cx="719.9" cy="245.4" rx="2.35" ry="3.05"/><ellipse cx="726.1" cy="244.6" rx="2.35" ry="3.05"/><ellipse cx="732.2" cy="241.5" rx="2.35" ry="3.05"/><ellipse cx="729.1" cy="248.4" rx="2.35" ry="3.05"/><ellipse cx="705.8" cy="249.2" rx="2.35" ry="3.05"/><ellipse cx="660.2" cy="258.4" rx="2.35" ry="3.05"/><ellipse cx="669.7" cy="256.1" rx="2.35" ry="3.05"/><ellipse cx="668.7" cy="263.7" rx="2.35" ry="3.05"/><ellipse cx="687.5" cy="256.1" rx="2.35" ry="3.05"/><ellipse cx="689.3" cy="263.0" rx="2.35" ry="3.05"/><ellipse cx="695.4" cy="265.2" rx="2.35" ry="3.05"/><ellipse cx="703.1" cy="261.4" rx="2.35" ry="3.05"/><ellipse cx="710.7" cy="257.6" rx="2.35" ry="3.05"/><ellipse cx="726.1" cy="258.4" rx="2.35" ry="3.05"/><ellipse cx="732.2" cy="256.8" rx="2.35" ry="3.05"/><ellipse cx="716.1" cy="266.8" rx="2.35" ry="3.05"/><ellipse cx="720.7" cy="268.3" rx="2.35" ry="3.05"/><ellipse cx="714.6" cy="271.4" rx="2.35" ry="3.05"/><ellipse cx="729.1" cy="264.5" rx="2.35" ry="3.05"/><ellipse cx="732.2" cy="266.8" rx="2.35" ry="3.05"/><ellipse cx="697.7" cy="272.9" rx="2.35" ry="3.05"/><ellipse cx="683.2" cy="276.7" rx="2.35" ry="3.05"/><ellipse cx="675.2" cy="282.8" rx="2.35" ry="3.05"/><ellipse cx="703.9" cy="282.5" rx="2.35" ry="3.05"/><ellipse cx="716.9" cy="279.0" rx="2.35" ry="3.05"/><ellipse cx="723.8" cy="276.7" rx="2.35" ry="3.05"/><ellipse cx="727.6" cy="275.2" rx="2.35" ry="3.05"/><ellipse cx="732.2" cy="281.3" rx="2.35" ry="3.05"/><ellipse cx="716.1" cy="284.4" rx="2.35" ry="3.05"/><ellipse cx="724.5" cy="285.9" rx="2.35" ry="3.05"/><ellipse cx="730.6" cy="285.9" rx="2.35" ry="3.05"/><ellipse cx="716.9" cy="289.0" rx="2.35" ry="3.05"/><ellipse cx="624.3" cy="282.1" rx="2.35" ry="3.05"/><ellipse cx="628.1" cy="282.8" rx="2.35" ry="3.05"/><ellipse cx="631.9" cy="282.1" rx="2.35" ry="3.05"/><ellipse cx="631.9" cy="284.4" rx="2.35" ry="3.05"/><ellipse cx="654.9" cy="284.4" rx="2.35" ry="3.05"/><ellipse cx="656.4" cy="290.5" rx="2.35" ry="3.05"/><ellipse cx="662.5" cy="295.9" rx="2.35" ry="3.05"/><ellipse cx="669.4" cy="298.2" rx="2.35" ry="3.05"/><ellipse cx="688.6" cy="291.3" rx="2.35" ry="3.05"/><ellipse cx="697.7" cy="295.1" rx="2.35" ry="3.05"/><ellipse cx="716.1" cy="296.6" rx="2.35" ry="3.05"/><ellipse cx="719.2" cy="297.4" rx="2.35" ry="3.05"/><ellipse cx="730.6" cy="295.9" rx="2.35" ry="3.05"/><ellipse cx="735.2" cy="297.4" rx="2.35" ry="3.05"/><ellipse cx="602.8" cy="301.2" rx="2.35" ry="3.05"/><ellipse cx="607.4" cy="299.7" rx="2.35" ry="3.05"/><ellipse cx="652.6" cy="303.5" rx="2.35" ry="3.05"/><ellipse cx="697.7" cy="303.5" rx="2.35" ry="3.05"/><ellipse cx="730.6" cy="302.7" rx="2.35" ry="3.05"/><ellipse cx="943.4" cy="168.4" rx="2.35" ry="3.05"/><ellipse cx="900.5" cy="180.3" rx="2.35" ry="3.05"/><ellipse cx="941.1" cy="175.4" rx="2.35" ry="3.05"/><ellipse cx="926.5" cy="182.6" rx="2.35" ry="3.05"/><ellipse cx="925.0" cy="184.9" rx="2.35" ry="3.05"/><ellipse cx="927.8" cy="189.5" rx="2.35" ry="3.05"/><ellipse cx="931.4" cy="200.2" rx="2.35" ry="3.05"/><ellipse cx="911.2" cy="202.5" rx="2.35" ry="3.05"/><ellipse cx="914.3" cy="202.5" rx="2.35" ry="3.05"/><ellipse cx="911.2" cy="213.7" rx="2.35" ry="3.05"/><ellipse cx="915.8" cy="213.2" rx="2.35" ry="3.05"/><ellipse cx="956.4" cy="204.5" rx="2.35" ry="3.05"/><ellipse cx="967.4" cy="216.7" rx="2.35" ry="3.05"/><ellipse cx="976.0" cy="220.4" rx="2.35" ry="3.05"/><ellipse cx="941.1" cy="256.1" rx="2.35" ry="3.05"/><ellipse cx="993.1" cy="253.0" rx="2.35" ry="3.05"/><ellipse cx="902.8" cy="275.2" rx="2.35" ry="3.05"/><ellipse cx="925.0" cy="296.9" rx="2.35" ry="3.05"/><ellipse cx="685.5" cy="307.8" rx="2.35" ry="3.05"/><ellipse cx="595.2" cy="308.8" rx="2.35" ry="3.05"/><ellipse cx="607.4" cy="313.4" rx="2.35" ry="3.05"/><ellipse cx="652.6" cy="316.5" rx="2.35" ry="3.05"/><ellipse cx="661.0" cy="312.3" rx="2.35" ry="3.05"/><ellipse cx="661.0" cy="321.1" rx="2.35" ry="3.05"/><ellipse cx="669.7" cy="320.3" rx="2.35" ry="3.05"/><ellipse cx="683.5" cy="313.4" rx="2.35" ry="3.05"/><ellipse cx="684.7" cy="317.2" rx="2.35" ry="3.05"/><ellipse cx="687.8" cy="316.5" rx="2.35" ry="3.05"/><ellipse cx="687.0" cy="322.6" rx="2.35" ry="3.05"/><ellipse cx="687.5" cy="329.5" rx="2.35" ry="3.05"/><ellipse cx="688.6" cy="336.4" rx="2.35" ry="3.05"/><ellipse cx="684.4" cy="341.4" rx="2.35" ry="3.05"/><ellipse cx="694.7" cy="323.7" rx="2.35" ry="3.05"/><ellipse cx="695.4" cy="335.6" rx="2.35" ry="3.05"/><ellipse cx="698.8" cy="344.0" rx="2.35" ry="3.05"/><ellipse cx="701.6" cy="349.7" rx="2.35" ry="3.05"/><ellipse cx="707.4" cy="328.4" rx="2.35" ry="3.05"/><ellipse cx="715.0" cy="323.7" rx="2.35" ry="3.05"/><ellipse cx="724.2" cy="321.8" rx="2.35" ry="3.05"/><ellipse cx="732.9" cy="317.2" rx="2.35" ry="3.05"/><ellipse cx="733.7" cy="321.8" rx="2.35" ry="3.05"/><ellipse cx="733.7" cy="334.8" rx="2.35" ry="3.05"/><ellipse cx="722.7" cy="350.9" rx="2.35" ry="3.05"/><ellipse cx="729.9" cy="349.7" rx="2.35" ry="3.05"/><ellipse cx="616.9" cy="330.3" rx="2.35" ry="3.05"/><ellipse cx="622.7" cy="342.2" rx="2.35" ry="3.05"/><ellipse cx="657.6" cy="341.4" rx="2.35" ry="3.05"/><ellipse cx="666.1" cy="345.3" rx="2.35" ry="3.05"/><ellipse cx="620.9" cy="412.9" rx="2.35" ry="3.05"/><ellipse cx="673.7" cy="424.8" rx="2.35" ry="3.05"/><ellipse cx="750.5" cy="307.8" rx="2.35" ry="3.05"/><ellipse cx="759.7" cy="309.3" rx="2.35" ry="3.05"/><ellipse cx="755.1" cy="316.9" rx="2.35" ry="3.05"/><ellipse cx="749.0" cy="330.3" rx="2.35" ry="3.05"/><ellipse cx="746.7" cy="337.1" rx="2.35" ry="3.05"/><ellipse cx="772.4" cy="328.4" rx="2.35" ry="3.05"/><ellipse cx="793.9" cy="321.1" rx="2.35" ry="3.05"/><ellipse cx="806.9" cy="315.7" rx="2.35" ry="3.05"/><ellipse cx="806.9" cy="320.3" rx="2.35" ry="3.05"/><ellipse cx="823.7" cy="341.3" rx="2.35" ry="3.05"/><ellipse cx="920.4" cy="311.1" rx="2.35" ry="3.05"/><ellipse cx="748.7" cy="166.2" rx="2.35" ry="3.05"/><ellipse cx="757.2" cy="167.3" rx="2.35" ry="3.05"/><ellipse cx="741.4" cy="171.5" rx="2.35" ry="3.05"/><ellipse cx="776.8" cy="171.5" rx="2.35" ry="3.05"/><ellipse cx="780.7" cy="168.1" rx="2.35" ry="3.05"/><ellipse cx="782.6" cy="171.9" rx="2.35" ry="3.05"/><ellipse cx="781.4" cy="165.8" rx="2.35" ry="3.05"/><ellipse cx="796.1" cy="168.1" rx="2.35" ry="3.05"/><ellipse cx="803.0" cy="173.5" rx="2.35" ry="3.05"/><ellipse cx="806.1" cy="169.6" rx="2.35" ry="3.05"/><ellipse cx="804.5" cy="175.8" rx="2.35" ry="3.05"/><ellipse cx="813.0" cy="173.5" rx="2.35" ry="3.05"/><ellipse cx="817.6" cy="165.8" rx="2.35" ry="3.05"/><ellipse cx="741.0" cy="181.2" rx="2.35" ry="3.05"/><ellipse cx="751.0" cy="185.0" rx="2.35" ry="3.05"/><ellipse cx="749.1" cy="191.2" rx="2.35" ry="3.05"/><ellipse cx="766.8" cy="187.3" rx="2.35" ry="3.05"/><ellipse cx="786.4" cy="181.2" rx="2.35" ry="3.05"/><ellipse cx="786.0" cy="188.1" rx="2.35" ry="3.05"/><ellipse cx="803.0" cy="180.4" rx="2.35" ry="3.05"/><ellipse cx="806.1" cy="184.2" rx="2.35" ry="3.05"/><ellipse cx="813.4" cy="180.4" rx="2.35" ry="3.05"/><ellipse cx="813.8" cy="187.3" rx="2.35" ry="3.05"/><ellipse cx="816.8" cy="184.2" rx="2.35" ry="3.05"/><ellipse cx="774.5" cy="197.3" rx="2.35" ry="3.05"/><ellipse cx="782.2" cy="198.9" rx="2.35" ry="3.05"/><ellipse cx="787.6" cy="199.6" rx="2.35" ry="3.05"/><ellipse cx="786.8" cy="192.7" rx="2.35" ry="3.05"/><ellipse cx="793.0" cy="196.6" rx="2.35" ry="3.05"/><ellipse cx="793.0" cy="194.3" rx="2.35" ry="3.05"/><ellipse cx="800.7" cy="193.5" rx="2.35" ry="3.05"/><ellipse cx="810.3" cy="198.1" rx="2.35" ry="3.05"/><ellipse cx="762.6" cy="201.2" rx="2.35" ry="3.05"/><ellipse cx="766.8" cy="203.5" rx="2.35" ry="3.05"/><ellipse cx="816.1" cy="197.3" rx="2.35" ry="3.05"/><ellipse cx="742.2" cy="212.4" rx="2.35" ry="3.05"/><ellipse cx="747.5" cy="211.2" rx="2.35" ry="3.05"/><ellipse cx="748.3" cy="208.1" rx="2.35" ry="3.05"/><ellipse cx="754.5" cy="211.2" rx="2.35" ry="3.05"/><ellipse cx="758.3" cy="210.4" rx="2.35" ry="3.05"/><ellipse cx="770.6" cy="209.7" rx="2.35" ry="3.05"/><ellipse cx="769.1" cy="215.0" rx="2.35" ry="3.05"/><ellipse cx="773.7" cy="215.8" rx="2.35" ry="3.05"/><ellipse cx="774.5" cy="218.9" rx="2.35" ry="3.05"/><ellipse cx="783.7" cy="206.6" rx="2.35" ry="3.05"/><ellipse cx="782.2" cy="214.3" rx="2.35" ry="3.05"/><ellipse cx="791.4" cy="210.4" rx="2.35" ry="3.05"/><ellipse cx="794.5" cy="211.2" rx="2.35" ry="3.05"/><ellipse cx="795.3" cy="214.3" rx="2.35" ry="3.05"/><ellipse cx="811.5" cy="208.1" rx="2.35" ry="3.05"/><ellipse cx="806.8" cy="213.5" rx="2.35" ry="3.05"/><ellipse cx="816.1" cy="209.7" rx="2.35" ry="3.05"/><ellipse cx="756.8" cy="218.1" rx="2.35" ry="3.05"/><ellipse cx="747.2" cy="224.3" rx="2.35" ry="3.05"/><ellipse cx="756.8" cy="224.3" rx="2.35" ry="3.05"/><ellipse cx="761.4" cy="220.4" rx="2.35" ry="3.05"/><ellipse cx="763.7" cy="223.5" rx="2.35" ry="3.05"/><ellipse cx="768.3" cy="227.4" rx="2.35" ry="3.05"/><ellipse cx="771.4" cy="226.6" rx="2.35" ry="3.05"/><ellipse cx="784.5" cy="221.2" rx="2.35" ry="3.05"/><ellipse cx="785.3" cy="223.5" rx="2.35" ry="3.05"/><ellipse cx="793.0" cy="218.9" rx="2.35" ry="3.05"/><ellipse cx="805.3" cy="224.3" rx="2.35" ry="3.05"/><ellipse cx="810.7" cy="222.0" rx="2.35" ry="3.05"/><ellipse cx="814.5" cy="220.4" rx="2.35" ry="3.05"/><ellipse cx="816.1" cy="226.6" rx="2.35" ry="3.05"/><ellipse cx="742.2" cy="233.5" rx="2.35" ry="3.05"/><ellipse cx="746.0" cy="232.8" rx="2.35" ry="3.05"/><ellipse cx="752.2" cy="232.8" rx="2.35" ry="3.05"/><ellipse cx="762.9" cy="231.2" rx="2.35" ry="3.05"/><ellipse cx="766.8" cy="232.8" rx="2.35" ry="3.05"/><ellipse cx="789.9" cy="230.4" rx="2.35" ry="3.05"/><ellipse cx="799.9" cy="229.7" rx="2.35" ry="3.05"/><ellipse cx="803.8" cy="231.2" rx="2.35" ry="3.05"/><ellipse cx="812.2" cy="229.7" rx="2.35" ry="3.05"/><ellipse cx="820.3" cy="166.2" rx="2.35" ry="3.05"/><ellipse cx="823.4" cy="170.8" rx="2.35" ry="3.05"/><ellipse cx="827.6" cy="170.8" rx="2.35" ry="3.05"/><ellipse cx="834.6" cy="170.0" rx="2.35" ry="3.05"/><ellipse cx="838.0" cy="172.7" rx="2.35" ry="3.05"/><ellipse cx="842.6" cy="167.3" rx="2.35" ry="3.05"/><ellipse cx="853.4" cy="167.7" rx="2.35" ry="3.05"/><ellipse cx="865.7" cy="166.2" rx="2.35" ry="3.05"/><ellipse cx="875.0" cy="166.5" rx="2.35" ry="3.05"/><ellipse cx="876.5" cy="169.2" rx="2.35" ry="3.05"/><ellipse cx="885.0" cy="168.8" rx="2.35" ry="3.05"/><ellipse cx="890.4" cy="166.5" rx="2.35" ry="3.05"/><ellipse cx="863.4" cy="176.2" rx="2.35" ry="3.05"/><ellipse cx="876.9" cy="178.1" rx="2.35" ry="3.05"/><ellipse cx="887.3" cy="178.1" rx="2.35" ry="3.05"/><ellipse cx="896.5" cy="172.7" rx="2.35" ry="3.05"/><ellipse cx="898.8" cy="170.4" rx="2.35" ry="3.05"/><ellipse cx="898.8" cy="181.2" rx="2.35" ry="3.05"/><ellipse cx="822.6" cy="185.0" rx="2.35" ry="3.05"/><ellipse cx="823.0" cy="188.1" rx="2.35" ry="3.05"/><ellipse cx="818.8" cy="188.9" rx="2.35" ry="3.05"/><ellipse cx="819.2" cy="195.8" rx="2.35" ry="3.05"/><ellipse cx="835.3" cy="183.5" rx="2.35" ry="3.05"/><ellipse cx="838.8" cy="180.4" rx="2.35" ry="3.05"/><ellipse cx="840.3" cy="185.0" rx="2.35" ry="3.05"/><ellipse cx="844.2" cy="190.4" rx="2.35" ry="3.05"/><ellipse cx="847.3" cy="178.9" rx="2.35" ry="3.05"/><ellipse cx="848.8" cy="181.9" rx="2.35" ry="3.05"/><ellipse cx="851.1" cy="187.3" rx="2.35" ry="3.05"/><ellipse cx="861.1" cy="191.2" rx="2.35" ry="3.05"/><ellipse cx="858.0" cy="192.7" rx="2.35" ry="3.05"/><ellipse cx="875.0" cy="187.3" rx="2.35" ry="3.05"/><ellipse cx="831.5" cy="199.6" rx="2.35" ry="3.05"/><ellipse cx="833.4" cy="204.3" rx="2.35" ry="3.05"/><ellipse cx="832.2" cy="211.2" rx="2.35" ry="3.05"/><ellipse cx="833.4" cy="215.8" rx="2.35" ry="3.05"/><ellipse cx="822.6" cy="215.8" rx="2.35" ry="3.05"/><ellipse cx="822.6" cy="220.4" rx="2.35" ry="3.05"/><ellipse cx="819.5" cy="224.3" rx="2.35" ry="3.05"/><ellipse cx="822.6" cy="226.6" rx="2.35" ry="3.05"/><ellipse cx="828.8" cy="220.4" rx="2.35" ry="3.05"/><ellipse cx="831.1" cy="228.1" rx="2.35" ry="3.05"/><ellipse cx="833.4" cy="229.7" rx="2.35" ry="3.05"/><ellipse cx="822.6" cy="231.2" rx="2.35" ry="3.05"/><ellipse cx="847.3" cy="205.0" rx="2.35" ry="3.05"/><ellipse cx="856.5" cy="202.0" rx="2.35" ry="3.05"/><ellipse cx="860.3" cy="202.0" rx="2.35" ry="3.05"/><ellipse cx="858.8" cy="208.1" rx="2.35" ry="3.05"/><ellipse cx="864.2" cy="208.1" rx="2.35" ry="3.05"/><ellipse cx="865.7" cy="209.7" rx="2.35" ry="3.05"/><ellipse cx="870.4" cy="197.3" rx="2.35" ry="3.05"/><ellipse cx="871.9" cy="200.4" rx="2.35" ry="3.05"/><ellipse cx="871.9" cy="206.6" rx="2.35" ry="3.05"/><ellipse cx="877.3" cy="201.2" rx="2.35" ry="3.05"/><ellipse cx="885.8" cy="193.5" rx="2.35" ry="3.05"/><ellipse cx="890.4" cy="196.6" rx="2.35" ry="3.05"/><ellipse cx="883.4" cy="202.0" rx="2.35" ry="3.05"/><ellipse cx="885.8" cy="208.1" rx="2.35" ry="3.05"/><ellipse cx="886.5" cy="211.2" rx="2.35" ry="3.05"/><ellipse cx="892.7" cy="205.8" rx="2.35" ry="3.05"/><ellipse cx="898.8" cy="205.8" rx="2.35" ry="3.05"/><ellipse cx="852.6" cy="214.3" rx="2.35" ry="3.05"/><ellipse cx="848.8" cy="220.4" rx="2.35" ry="3.05"/><ellipse cx="854.2" cy="221.2" rx="2.35" ry="3.05"/><ellipse cx="846.5" cy="225.8" rx="2.35" ry="3.05"/><ellipse cx="862.7" cy="218.1" rx="2.35" ry="3.05"/><ellipse cx="858.0" cy="228.1" rx="2.35" ry="3.05"/><ellipse cx="871.9" cy="226.6" rx="2.35" ry="3.05"/><ellipse cx="888.8" cy="228.1" rx="2.35" ry="3.05"/><ellipse cx="892.7" cy="228.1" rx="2.35" ry="3.05"/><ellipse cx="851.9" cy="233.5" rx="2.35" ry="3.05"/><ellipse cx="864.2" cy="232.8" rx="2.35" ry="3.05"/><ellipse cx="868.8" cy="232.0" rx="2.35" ry="3.05"/><ellipse cx="740.6" cy="236.5" rx="2.35" ry="3.05"/><ellipse cx="744.5" cy="235.8" rx="2.35" ry="3.05"/><ellipse cx="748.3" cy="237.3" rx="2.35" ry="3.05"/><ellipse cx="740.6" cy="242.7" rx="2.35" ry="3.05"/><ellipse cx="745.2" cy="241.2" rx="2.35" ry="3.05"/><ellipse cx="755.2" cy="246.5" rx="2.35" ry="3.05"/><ellipse cx="762.2" cy="245.0" rx="2.35" ry="3.05"/><ellipse cx="761.4" cy="252.7" rx="2.35" ry="3.05"/><ellipse cx="769.9" cy="239.6" rx="2.35" ry="3.05"/><ellipse cx="776.0" cy="243.5" rx="2.35" ry="3.05"/><ellipse cx="777.6" cy="238.1" rx="2.35" ry="3.05"/><ellipse cx="783.7" cy="240.4" rx="2.35" ry="3.05"/><ellipse cx="789.9" cy="236.5" rx="2.35" ry="3.05"/><ellipse cx="791.4" cy="241.9" rx="2.35" ry="3.05"/><ellipse cx="791.4" cy="247.3" rx="2.35" ry="3.05"/><ellipse cx="797.6" cy="248.9" rx="2.35" ry="3.05"/><ellipse cx="801.4" cy="249.6" rx="2.35" ry="3.05"/><ellipse cx="803.8" cy="235.8" rx="2.35" ry="3.05"/><ellipse cx="809.9" cy="239.6" rx="2.35" ry="3.05"/><ellipse cx="813.8" cy="235.8" rx="2.35" ry="3.05"/><ellipse cx="803.8" cy="243.5" rx="2.35" ry="3.05"/><ellipse cx="808.4" cy="244.2" rx="2.35" ry="3.05"/><ellipse cx="812.2" cy="243.5" rx="2.35" ry="3.05"/><ellipse cx="807.6" cy="251.2" rx="2.35" ry="3.05"/><ellipse cx="737.5" cy="255.8" rx="2.35" ry="3.05"/><ellipse cx="743.7" cy="255.0" rx="2.35" ry="3.05"/><ellipse cx="744.5" cy="258.9" rx="2.35" ry="3.05"/><ellipse cx="751.4" cy="257.3" rx="2.35" ry="3.05"/><ellipse cx="752.2" cy="261.9" rx="2.35" ry="3.05"/><ellipse cx="739.1" cy="264.3" rx="2.35" ry="3.05"/><ellipse cx="737.5" cy="270.4" rx="2.35" ry="3.05"/><ellipse cx="747.5" cy="264.3" rx="2.35" ry="3.05"/><ellipse cx="746.8" cy="270.4" rx="2.35" ry="3.05"/><ellipse cx="751.4" cy="268.9" rx="2.35" ry="3.05"/><ellipse cx="759.1" cy="265.0" rx="2.35" ry="3.05"/><ellipse cx="764.5" cy="268.1" rx="2.35" ry="3.05"/><ellipse cx="761.4" cy="271.2" rx="2.35" ry="3.05"/><ellipse cx="762.9" cy="278.1" rx="2.35" ry="3.05"/><ellipse cx="756.0" cy="276.6" rx="2.35" ry="3.05"/><ellipse cx="746.0" cy="280.4" rx="2.35" ry="3.05"/><ellipse cx="749.9" cy="276.6" rx="2.35" ry="3.05"/><ellipse cx="773.0" cy="250.4" rx="2.35" ry="3.05"/><ellipse cx="775.3" cy="254.2" rx="2.35" ry="3.05"/><ellipse cx="772.2" cy="258.1" rx="2.35" ry="3.05"/><ellipse cx="773.0" cy="261.2" rx="2.35" ry="3.05"/><ellipse cx="770.6" cy="266.6" rx="2.35" ry="3.05"/><ellipse cx="774.5" cy="267.3" rx="2.35" ry="3.05"/><ellipse cx="779.1" cy="268.9" rx="2.35" ry="3.05"/><ellipse cx="782.2" cy="271.2" rx="2.35" ry="3.05"/><ellipse cx="773.7" cy="273.5" rx="2.35" ry="3.05"/><ellipse cx="777.6" cy="276.6" rx="2.35" ry="3.05"/><ellipse cx="781.4" cy="282.0" rx="2.35" ry="3.05"/><ellipse cx="777.6" cy="287.4" rx="2.35" ry="3.05"/><ellipse cx="786.8" cy="254.2" rx="2.35" ry="3.05"/><ellipse cx="793.0" cy="256.6" rx="2.35" ry="3.05"/><ellipse cx="789.9" cy="262.7" rx="2.35" ry="3.05"/><ellipse cx="796.1" cy="261.9" rx="2.35" ry="3.05"/><ellipse cx="786.8" cy="281.2" rx="2.35" ry="3.05"/><ellipse cx="806.8" cy="259.6" rx="2.35" ry="3.05"/><ellipse cx="810.7" cy="260.4" rx="2.35" ry="3.05"/><ellipse cx="816.1" cy="261.2" rx="2.35" ry="3.05"/><ellipse cx="803.8" cy="266.6" rx="2.35" ry="3.05"/><ellipse cx="809.9" cy="268.1" rx="2.35" ry="3.05"/><ellipse cx="798.4" cy="270.4" rx="2.35" ry="3.05"/><ellipse cx="800.7" cy="276.6" rx="2.35" ry="3.05"/><ellipse cx="805.3" cy="279.7" rx="2.35" ry="3.05"/><ellipse cx="809.9" cy="278.9" rx="2.35" ry="3.05"/><ellipse cx="817.6" cy="255.0" rx="2.35" ry="3.05"/><ellipse cx="738.3" cy="283.5" rx="2.35" ry="3.05"/><ellipse cx="738.3" cy="292.0" rx="2.35" ry="3.05"/><ellipse cx="739.1" cy="301.2" rx="2.35" ry="3.05"/><ellipse cx="745.2" cy="296.6" rx="2.35" ry="3.05"/><ellipse cx="756.8" cy="287.4" rx="2.35" ry="3.05"/><ellipse cx="764.5" cy="288.9" rx="2.35" ry="3.05"/><ellipse cx="771.4" cy="296.6" rx="2.35" ry="3.05"/><ellipse cx="789.1" cy="299.7" rx="2.35" ry="3.05"/><ellipse cx="791.4" cy="302.8" rx="2.35" ry="3.05"/><ellipse cx="750.6" cy="304.3" rx="2.35" ry="3.05"/><ellipse cx="829.9" cy="238.1" rx="2.35" ry="3.05"/><ellipse cx="838.4" cy="238.1" rx="2.35" ry="3.05"/><ellipse cx="851.9" cy="236.9" rx="2.35" ry="3.05"/><ellipse cx="862.7" cy="238.1" rx="2.35" ry="3.05"/><ellipse cx="865.7" cy="237.3" rx="2.35" ry="3.05"/><ellipse cx="869.6" cy="238.1" rx="2.35" ry="3.05"/><ellipse cx="864.2" cy="241.2" rx="2.35" ry="3.05"/><ellipse cx="876.9" cy="239.2" rx="2.35" ry="3.05"/><ellipse cx="885.8" cy="238.1" rx="2.35" ry="3.05"/><ellipse cx="831.9" cy="247.3" rx="2.35" ry="3.05"/><ellipse cx="836.5" cy="244.2" rx="2.35" ry="3.05"/><ellipse cx="838.8" cy="248.9" rx="2.35" ry="3.05"/><ellipse cx="841.9" cy="245.8" rx="2.35" ry="3.05"/><ellipse cx="819.5" cy="255.0" rx="2.35" ry="3.05"/><ellipse cx="818.8" cy="262.7" rx="2.35" ry="3.05"/><ellipse cx="828.0" cy="256.6" rx="2.35" ry="3.05"/><ellipse cx="835.7" cy="261.9" rx="2.35" ry="3.05"/><ellipse cx="839.6" cy="265.0" rx="2.35" ry="3.05"/><ellipse cx="845.7" cy="268.9" rx="2.35" ry="3.05"/><ellipse cx="844.9" cy="277.3" rx="2.35" ry="3.05"/><ellipse cx="851.1" cy="255.0" rx="2.35" ry="3.05"/><ellipse cx="854.2" cy="251.9" rx="2.35" ry="3.05"/><ellipse cx="858.8" cy="248.9" rx="2.35" ry="3.05"/><ellipse cx="864.2" cy="250.4" rx="2.35" ry="3.05"/><ellipse cx="866.1" cy="246.5" rx="2.35" ry="3.05"/><ellipse cx="878.1" cy="250.4" rx="2.35" ry="3.05"/><ellipse cx="879.6" cy="251.9" rx="2.35" ry="3.05"/><ellipse cx="855.0" cy="263.5" rx="2.35" ry="3.05"/><ellipse cx="870.7" cy="263.1" rx="2.35" ry="3.05"/><ellipse cx="882.7" cy="268.5" rx="2.35" ry="3.05"/><ellipse cx="829.5" cy="281.2" rx="2.35" ry="3.05"/><ellipse cx="828.8" cy="290.4" rx="2.35" ry="3.05"/><ellipse cx="838.8" cy="290.1" rx="2.35" ry="3.05"/><ellipse cx="899.6" cy="275.0" rx="2.35" ry="3.05"/></g>
<polygon points="595.8,302.3 603.3,299.3 610.8,296.3 618.3,293.3 625.8,290.3 633.2,287.3 640.7,284.3 648.2,281.3 655.7,278.3 663.2,275.3 670.7,272.3 678.2,269.3 685.7,266.3 693.2,263.3 700.7,260.2 708.1,257.2 715.6,254.2 723.1,251.1 730.6,248.1 738.1,245.0 745.6,241.9 753.1,238.8 760.6,235.7 768.1,232.5 775.6,229.3 783.0,226.1 790.5,222.8 798.0,219.5 805.5,216.2 813.0,212.8 820.5,209.3 828.0,205.8 835.5,202.3 843.0,198.8 850.5,195.2 857.9,191.6 865.4,188.0 872.9,184.3 880.4,180.7 887.9,177.0 895.4,173.4 902.9,169.7 910.4,166.0 917.9,162.4 925.4,158.7 932.8,155.0 940.3,151.3 947.8,147.6 955.3,143.9 962.8,140.2 970.3,136.5 977.8,132.8 985.3,129.1 992.8,125.4 1000.3,121.7 1007.7,117.9 1015.2,114.2 1022.7,110.5 1030.2,106.8 1037.7,103.1 1037.7,127.5 1030.2,130.5 1022.7,133.5 1015.2,136.5 1007.7,139.5 1000.3,142.4 992.8,145.4 985.3,148.4 977.8,151.4 970.3,154.4 962.8,157.4 955.3,160.4 947.8,163.4 940.3,166.4 932.8,169.4 925.4,172.5 917.9,175.5 910.4,178.5 902.9,181.5 895.4,184.6 887.9,187.6 880.4,190.6 872.9,193.7 865.4,196.8 857.9,199.8 850.5,203.0 843.0,206.1 835.5,209.2 828.0,212.4 820.5,215.6 813.0,218.9 805.5,222.2 798.0,225.5 790.5,228.9 783.0,232.4 775.6,235.8 768.1,239.4 760.6,242.9 753.1,246.5 745.6,250.1 738.1,253.7 730.6,257.3 723.1,261.0 715.6,264.6 708.1,268.3 700.7,271.9 693.2,275.6 685.7,279.3 678.2,283.0 670.7,286.7 663.2,290.4 655.7,294.1 648.2,297.8 640.7,301.5 633.2,305.2 625.8,308.9 618.3,312.6 610.8,316.3 603.3,320.0 595.8,323.7" fill="#b4b4b4" fill-opacity="0.5" stroke="#b4b4b4" stroke-opacity="0.5" stroke-width="0.8"/>
<line x1="595.8" y1="313.0" x2="1037.7" y2="115.3" stroke="#000" stroke-width="1.9"/>
<path d="M573.5 443.9V25.5H1059.7V443.9" stroke="#333" stroke-width="1.3" fill="none"/>
<path d="M572.9 443.9H1060.3" stroke="#333" stroke-width="1.5" fill="none"/>
<text transform="translate(221.95,511.40) scale(0.8591,1)" font-size="19.86" fill="#000">(c) VAS vs HRR</text>
<text transform="translate(65.41,560.00) scale(1.0571,1)" font-size="14.00" fill="#000">ρ = -0.35, p = 0.000</text>
<text transform="translate(239.35,975.20) scale(0.8570,1)" font-size="17.68" fill="#000">VAS (DOMS)</text>
<text transform="translate(13.40,820.40) rotate(-90) scale(0.9968,0.7174)" font-size="20.00">HRR60s (bpm drop)</text>
<text x="46.20" y="955.30" font-size="15" text-anchor="middle" transform="translate(1.39,0) scale(0.97,1)">−3</text>
<text x="148.75" y="955.30" font-size="15" text-anchor="middle" transform="translate(4.46,0) scale(0.97,1)">−2</text>
<text x="251.30" y="955.30" font-size="15" text-anchor="middle" transform="translate(7.54,0) scale(0.97,1)">−1</text>
<text x="353.85" y="955.30" font-size="15" text-anchor="middle" transform="translate(10.62,0) scale(0.97,1)">0</text>
<text x="456.40" y="955.30" font-size="15" text-anchor="middle" transform="translate(13.69,0) scale(0.97,1)">1</text>
<text x="35.30" y="918.00" font-size="15" text-anchor="end" transform="translate(1.06,0) scale(0.97,1)">25</text>
<text x="35.30" y="842.30" font-size="15" text-anchor="end" transform="translate(1.06,0) scale(0.97,1)">30</text>
<text x="35.30" y="766.60" font-size="15" text-anchor="end" transform="translate(1.06,0) scale(0.97,1)">35</text>
<text x="35.30" y="690.90" font-size="15" text-anchor="end" transform="translate(1.06,0) scale(0.97,1)">40</text>
<text x="35.30" y="615.20" font-size="15" text-anchor="end" transform="translate(1.06,0) scale(0.97,1)">45</text>
<text x="35.30" y="539.50" font-size="15" text-anchor="end" transform="translate(1.06,0) scale(0.97,1)">50</text>
<path d="M46.20 936.00v3.6 M148.75 936.00v3.6 M251.30 936.00v3.6 M353.85 936.00v3.6 M456.40 936.00v3.6 M41.30 912.70h-3.3 M41.30 837.00h-3.3 M41.30 761.30h-3.3 M41.30 685.60h-3.3 M41.30 609.90h-3.3 M41.30 534.20h-3.3" stroke="#111" stroke-width="1" fill="none"/>
<g fill="rgb(20,178,70)" fill-opacity="0.6" stroke="rgb(20,155,70)" stroke-opacity="0.75" stroke-width="1.0"><ellipse cx="153.5" cy="572.8" rx="2.35" ry="3.05"/><ellipse cx="203.2" cy="573.4" rx="2.35" ry="3.05"/><ellipse cx="181.5" cy="592.2" rx="2.35" ry="3.05"/><ellipse cx="97.6" cy="604.5" rx="2.35" ry="3.05"/><ellipse cx="153.8" cy="614.7" rx="2.35" ry="3.05"/><ellipse cx="63.7" cy="623.9" rx="2.35" ry="3.05"/><ellipse cx="170.0" cy="626.4" rx="2.35" ry="3.05"/><ellipse cx="184.9" cy="622.1" rx="2.35" ry="3.05"/><ellipse cx="185.2" cy="623.9" rx="2.35" ry="3.05"/><ellipse cx="203.2" cy="620.2" rx="2.35" ry="3.05"/><ellipse cx="196.3" cy="635.8" rx="2.35" ry="3.05"/><ellipse cx="203.2" cy="640.4" rx="2.35" ry="3.05"/><ellipse cx="98.9" cy="641.2" rx="2.35" ry="3.05"/><ellipse cx="138.2" cy="645.0" rx="2.35" ry="3.05"/><ellipse cx="183.0" cy="644.7" rx="2.35" ry="3.05"/><ellipse cx="161.1" cy="648.9" rx="2.35" ry="3.05"/><ellipse cx="163.1" cy="652.7" rx="2.35" ry="3.05"/><ellipse cx="180.3" cy="653.9" rx="2.35" ry="3.05"/><ellipse cx="256.8" cy="536.8" rx="2.35" ry="3.05"/><ellipse cx="320.0" cy="562.8" rx="2.35" ry="3.05"/><ellipse cx="212.0" cy="586.1" rx="2.35" ry="3.05"/><ellipse cx="228.5" cy="583.5" rx="2.35" ry="3.05"/><ellipse cx="256.8" cy="574.6" rx="2.35" ry="3.05"/><ellipse cx="256.8" cy="592.7" rx="2.35" ry="3.05"/><ellipse cx="228.2" cy="593.3" rx="2.35" ry="3.05"/><ellipse cx="288.9" cy="583.4" rx="2.35" ry="3.05"/><ellipse cx="287.9" cy="597.3" rx="2.35" ry="3.05"/><ellipse cx="290.0" cy="598.4" rx="2.35" ry="3.05"/><ellipse cx="292.0" cy="601.4" rx="2.35" ry="3.05"/><ellipse cx="233.8" cy="603.7" rx="2.35" ry="3.05"/><ellipse cx="234.6" cy="605.5" rx="2.35" ry="3.05"/><ellipse cx="252.7" cy="606.5" rx="2.35" ry="3.05"/><ellipse cx="252.4" cy="608.0" rx="2.35" ry="3.05"/><ellipse cx="227.0" cy="609.8" rx="2.35" ry="3.05"/><ellipse cx="296.6" cy="616.7" rx="2.35" ry="3.05"/><ellipse cx="360.1" cy="601.1" rx="2.35" ry="3.05"/><ellipse cx="214.4" cy="622.5" rx="2.35" ry="3.05"/><ellipse cx="239.7" cy="621.8" rx="2.35" ry="3.05"/><ellipse cx="255.3" cy="628.2" rx="2.35" ry="3.05"/><ellipse cx="261.7" cy="627.0" rx="2.35" ry="3.05"/><ellipse cx="252.2" cy="635.1" rx="2.35" ry="3.05"/><ellipse cx="217.0" cy="636.2" rx="2.35" ry="3.05"/><ellipse cx="217.8" cy="637.7" rx="2.35" ry="3.05"/><ellipse cx="221.1" cy="635.5" rx="2.35" ry="3.05"/><ellipse cx="231.5" cy="643.5" rx="2.35" ry="3.05"/><ellipse cx="233.1" cy="642.7" rx="2.35" ry="3.05"/><ellipse cx="234.6" cy="639.7" rx="2.35" ry="3.05"/><ellipse cx="269.5" cy="638.1" rx="2.35" ry="3.05"/><ellipse cx="264.5" cy="640.4" rx="2.35" ry="3.05"/><ellipse cx="274.7" cy="641.2" rx="2.35" ry="3.05"/><ellipse cx="264.0" cy="645.0" rx="2.35" ry="3.05"/><ellipse cx="262.9" cy="649.6" rx="2.35" ry="3.05"/><ellipse cx="269.8" cy="651.2" rx="2.35" ry="3.05"/><ellipse cx="271.3" cy="652.7" rx="2.35" ry="3.05"/><ellipse cx="273.6" cy="648.1" rx="2.35" ry="3.05"/><ellipse cx="276.7" cy="654.2" rx="2.35" ry="3.05"/><ellipse cx="287.4" cy="635.5" rx="2.35" ry="3.05"/><ellipse cx="285.9" cy="643.2" rx="2.35" ry="3.05"/><ellipse cx="299.7" cy="634.3" rx="2.35" ry="3.05"/><ellipse cx="297.4" cy="638.6" rx="2.35" ry="3.05"/><ellipse cx="299.7" cy="645.8" rx="2.35" ry="3.05"/><ellipse cx="312.2" cy="634.3" rx="2.35" ry="3.05"/><ellipse cx="307.3" cy="648.9" rx="2.35" ry="3.05"/><ellipse cx="313.4" cy="652.7" rx="2.35" ry="3.05"/><ellipse cx="335.6" cy="633.1" rx="2.35" ry="3.05"/><ellipse cx="349.4" cy="633.9" rx="2.35" ry="3.05"/><ellipse cx="328.0" cy="640.0" rx="2.35" ry="3.05"/><ellipse cx="331.0" cy="645.0" rx="2.35" ry="3.05"/><ellipse cx="331.8" cy="646.6" rx="2.35" ry="3.05"/><ellipse cx="336.4" cy="642.0" rx="2.35" ry="3.05"/><ellipse cx="359.8" cy="622.4" rx="2.35" ry="3.05"/><ellipse cx="366.2" cy="622.8" rx="2.35" ry="3.05"/><ellipse cx="366.2" cy="632.8" rx="2.35" ry="3.05"/><ellipse cx="366.2" cy="635.5" rx="2.35" ry="3.05"/><ellipse cx="291.2" cy="652.7" rx="2.35" ry="3.05"/><ellipse cx="305.8" cy="655.7" rx="2.35" ry="3.05"/><ellipse cx="325.7" cy="653.5" rx="2.35" ry="3.05"/><ellipse cx="321.8" cy="656.5" rx="2.35" ry="3.05"/><ellipse cx="331.0" cy="656.5" rx="2.35" ry="3.05"/><ellipse cx="363.9" cy="653.0" rx="2.35" ry="3.05"/><ellipse cx="215.5" cy="654.2" rx="2.35" ry="3.05"/><ellipse cx="245.3" cy="653.5" rx="2.35" ry="3.05"/><ellipse cx="247.6" cy="654.2" rx="2.35" ry="3.05"/><ellipse cx="257.6" cy="657.0" rx="2.35" ry="3.05"/><ellipse cx="268.3" cy="656.5" rx="2.35" ry="3.05"/><ellipse cx="280.5" cy="657.0" rx="2.35" ry="3.05"/><ellipse cx="375.4" cy="614.9" rx="2.35" ry="3.05"/><ellipse cx="421.8" cy="619.5" rx="2.35" ry="3.05"/><ellipse cx="379.2" cy="627.0" rx="2.35" ry="3.05"/><ellipse cx="377.4" cy="631.3" rx="2.35" ry="3.05"/><ellipse cx="371.3" cy="641.2" rx="2.35" ry="3.05"/><ellipse cx="407.1" cy="650.8" rx="2.35" ry="3.05"/><ellipse cx="477.7" cy="648.6" rx="2.35" ry="3.05"/><ellipse cx="388.7" cy="656.5" rx="2.35" ry="3.05"/><ellipse cx="442.0" cy="656.5" rx="2.35" ry="3.05"/><ellipse cx="496.8" cy="657.0" rx="2.35" ry="3.05"/><ellipse cx="370.1" cy="657.3" rx="2.35" ry="3.05"/><ellipse cx="106.5" cy="659.8" rx="2.35" ry="3.05"/><ellipse cx="163.4" cy="665.3" rx="2.35" ry="3.05"/><ellipse cx="198.9" cy="662.6" rx="2.35" ry="3.05"/><ellipse cx="202.5" cy="669.5" rx="2.35" ry="3.05"/><ellipse cx="198.3" cy="676.7" rx="2.35" ry="3.05"/><ellipse cx="203.2" cy="687.1" rx="2.35" ry="3.05"/><ellipse cx="201.7" cy="696.3" rx="2.35" ry="3.05"/><ellipse cx="197.1" cy="700.5" rx="2.35" ry="3.05"/><ellipse cx="116.0" cy="684.8" rx="2.35" ry="3.05"/><ellipse cx="134.8" cy="694.7" rx="2.35" ry="3.05"/><ellipse cx="134.7" cy="712.6" rx="2.35" ry="3.05"/><ellipse cx="181.5" cy="699.6" rx="2.35" ry="3.05"/><ellipse cx="179.2" cy="709.7" rx="2.35" ry="3.05"/><ellipse cx="177.2" cy="732.7" rx="2.35" ry="3.05"/><ellipse cx="174.2" cy="738.4" rx="2.35" ry="3.05"/><ellipse cx="200.9" cy="738.4" rx="2.35" ry="3.05"/><ellipse cx="200.9" cy="741.4" rx="2.35" ry="3.05"/><ellipse cx="155.8" cy="752.9" rx="2.35" ry="3.05"/><ellipse cx="99.2" cy="767.4" rx="2.35" ry="3.05"/><ellipse cx="370.1" cy="660.3" rx="2.35" ry="3.05"/><ellipse cx="376.9" cy="661.8" rx="2.35" ry="3.05"/><ellipse cx="388.4" cy="658.8" rx="2.35" ry="3.05"/><ellipse cx="393.8" cy="663.8" rx="2.35" ry="3.05"/><ellipse cx="406.0" cy="662.6" rx="2.35" ry="3.05"/><ellipse cx="407.1" cy="662.9" rx="2.35" ry="3.05"/><ellipse cx="442.0" cy="658.8" rx="2.35" ry="3.05"/><ellipse cx="446.6" cy="664.9" rx="2.35" ry="3.05"/><ellipse cx="496.8" cy="659.2" rx="2.35" ry="3.05"/><ellipse cx="372.4" cy="677.9" rx="2.35" ry="3.05"/><ellipse cx="376.9" cy="674.1" rx="2.35" ry="3.05"/><ellipse cx="377.7" cy="677.9" rx="2.35" ry="3.05"/><ellipse cx="383.8" cy="673.3" rx="2.35" ry="3.05"/><ellipse cx="391.5" cy="674.8" rx="2.35" ry="3.05"/><ellipse cx="396.8" cy="680.2" rx="2.35" ry="3.05"/><ellipse cx="397.6" cy="683.3" rx="2.35" ry="3.05"/><ellipse cx="376.2" cy="683.3" rx="2.35" ry="3.05"/><ellipse cx="378.5" cy="688.6" rx="2.35" ry="3.05"/><ellipse cx="381.5" cy="690.1" rx="2.35" ry="3.05"/><ellipse cx="388.4" cy="687.8" rx="2.35" ry="3.05"/><ellipse cx="386.9" cy="694.0" rx="2.35" ry="3.05"/><ellipse cx="419.0" cy="679.4" rx="2.35" ry="3.05"/><ellipse cx="461.6" cy="687.4" rx="2.35" ry="3.05"/><ellipse cx="370.4" cy="703.9" rx="2.35" ry="3.05"/><ellipse cx="370.1" cy="705.4" rx="2.35" ry="3.05"/><ellipse cx="376.9" cy="701.6" rx="2.35" ry="3.05"/><ellipse cx="386.9" cy="705.4" rx="2.35" ry="3.05"/><ellipse cx="383.8" cy="711.6" rx="2.35" ry="3.05"/><ellipse cx="386.1" cy="710.8" rx="2.35" ry="3.05"/><ellipse cx="389.2" cy="713.1" rx="2.35" ry="3.05"/><ellipse cx="390.0" cy="715.4" rx="2.35" ry="3.05"/><ellipse cx="399.9" cy="700.1" rx="2.35" ry="3.05"/><ellipse cx="401.4" cy="700.9" rx="2.35" ry="3.05"/><ellipse cx="407.1" cy="701.3" rx="2.35" ry="3.05"/><ellipse cx="411.4" cy="707.7" rx="2.35" ry="3.05"/><ellipse cx="415.2" cy="703.9" rx="2.35" ry="3.05"/><ellipse cx="422.4" cy="706.2" rx="2.35" ry="3.05"/><ellipse cx="426.7" cy="709.7" rx="2.35" ry="3.05"/><ellipse cx="432.5" cy="696.0" rx="2.35" ry="3.05"/><ellipse cx="438.2" cy="699.3" rx="2.35" ry="3.05"/><ellipse cx="438.9" cy="701.6" rx="2.35" ry="3.05"/><ellipse cx="449.3" cy="706.4" rx="2.35" ry="3.05"/><ellipse cx="459.6" cy="705.4" rx="2.35" ry="3.05"/><ellipse cx="461.9" cy="703.2" rx="2.35" ry="3.05"/><ellipse cx="434.0" cy="710.8" rx="2.35" ry="3.05"/><ellipse cx="422.1" cy="715.7" rx="2.35" ry="3.05"/><ellipse cx="369.3" cy="716.9" rx="2.35" ry="3.05"/><ellipse cx="368.5" cy="720.8" rx="2.35" ry="3.05"/><ellipse cx="380.8" cy="723.8" rx="2.35" ry="3.05"/><ellipse cx="390.7" cy="721.5" rx="2.35" ry="3.05"/><ellipse cx="396.8" cy="719.2" rx="2.35" ry="3.05"/><ellipse cx="397.6" cy="725.3" rx="2.35" ry="3.05"/><ellipse cx="404.5" cy="717.7" rx="2.35" ry="3.05"/><ellipse cx="404.5" cy="727.6" rx="2.35" ry="3.05"/><ellipse cx="395.3" cy="729.2" rx="2.35" ry="3.05"/><ellipse cx="418.3" cy="725.3" rx="2.35" ry="3.05"/><ellipse cx="416.3" cy="733.0" rx="2.35" ry="3.05"/><ellipse cx="429.0" cy="727.6" rx="2.35" ry="3.05"/><ellipse cx="432.8" cy="722.0" rx="2.35" ry="3.05"/><ellipse cx="457.3" cy="723.8" rx="2.35" ry="3.05"/><ellipse cx="461.9" cy="727.6" rx="2.35" ry="3.05"/><ellipse cx="471.1" cy="724.1" rx="2.35" ry="3.05"/><ellipse cx="370.1" cy="735.3" rx="2.35" ry="3.05"/><ellipse cx="368.5" cy="739.1" rx="2.35" ry="3.05"/><ellipse cx="376.2" cy="735.3" rx="2.35" ry="3.05"/><ellipse cx="377.7" cy="737.6" rx="2.35" ry="3.05"/><ellipse cx="382.3" cy="736.8" rx="2.35" ry="3.05"/><ellipse cx="370.1" cy="745.2" rx="2.35" ry="3.05"/><ellipse cx="446.6" cy="735.3" rx="2.35" ry="3.05"/><ellipse cx="427.5" cy="739.1" rx="2.35" ry="3.05"/><ellipse cx="432.8" cy="741.9" rx="2.35" ry="3.05"/><ellipse cx="435.1" cy="741.4" rx="2.35" ry="3.05"/><ellipse cx="442.0" cy="741.4" rx="2.35" ry="3.05"/><ellipse cx="435.9" cy="750.6" rx="2.35" ry="3.05"/><ellipse cx="440.5" cy="755.2" rx="2.35" ry="3.05"/><ellipse cx="405.3" cy="744.9" rx="2.35" ry="3.05"/><ellipse cx="398.4" cy="745.5" rx="2.35" ry="3.05"/><ellipse cx="393.8" cy="743.7" rx="2.35" ry="3.05"/><ellipse cx="380.8" cy="749.8" rx="2.35" ry="3.05"/><ellipse cx="386.1" cy="748.3" rx="2.35" ry="3.05"/><ellipse cx="391.5" cy="749.1" rx="2.35" ry="3.05"/><ellipse cx="394.5" cy="753.7" rx="2.35" ry="3.05"/><ellipse cx="397.6" cy="758.2" rx="2.35" ry="3.05"/><ellipse cx="396.8" cy="760.5" rx="2.35" ry="3.05"/><ellipse cx="393.8" cy="762.1" rx="2.35" ry="3.05"/><ellipse cx="455.8" cy="756.0" rx="2.35" ry="3.05"/><ellipse cx="458.8" cy="754.4" rx="2.35" ry="3.05"/><ellipse cx="456.5" cy="760.5" rx="2.35" ry="3.05"/><ellipse cx="457.3" cy="768.2" rx="2.35" ry="3.05"/><ellipse cx="473.4" cy="768.2" rx="2.35" ry="3.05"/><ellipse cx="474.1" cy="774.3" rx="2.35" ry="3.05"/><ellipse cx="474.1" cy="776.6" rx="2.35" ry="3.05"/><ellipse cx="468.0" cy="775.1" rx="2.35" ry="3.05"/><ellipse cx="368.5" cy="759.0" rx="2.35" ry="3.05"/><ellipse cx="369.3" cy="763.6" rx="2.35" ry="3.05"/><ellipse cx="376.2" cy="760.5" rx="2.35" ry="3.05"/><ellipse cx="378.5" cy="763.6" rx="2.35" ry="3.05"/><ellipse cx="379.2" cy="766.7" rx="2.35" ry="3.05"/><ellipse cx="381.5" cy="770.5" rx="2.35" ry="3.05"/><ellipse cx="383.8" cy="763.6" rx="2.35" ry="3.05"/><ellipse cx="395.3" cy="774.3" rx="2.35" ry="3.05"/><ellipse cx="394.5" cy="775.8" rx="2.35" ry="3.05"/><ellipse cx="405.3" cy="773.1" rx="2.35" ry="3.05"/><ellipse cx="411.4" cy="779.7" rx="2.35" ry="3.05"/><ellipse cx="419.0" cy="774.3" rx="2.35" ry="3.05"/><ellipse cx="384.6" cy="780.4" rx="2.35" ry="3.05"/><ellipse cx="382.3" cy="789.6" rx="2.35" ry="3.05"/><ellipse cx="390.0" cy="788.9" rx="2.35" ry="3.05"/><ellipse cx="390.0" cy="791.2" rx="2.35" ry="3.05"/><ellipse cx="393.0" cy="787.3" rx="2.35" ry="3.05"/><ellipse cx="416.7" cy="789.6" rx="2.35" ry="3.05"/><ellipse cx="421.3" cy="787.3" rx="2.35" ry="3.05"/><ellipse cx="426.7" cy="783.2" rx="2.35" ry="3.05"/><ellipse cx="431.3" cy="789.6" rx="2.35" ry="3.05"/><ellipse cx="461.6" cy="788.4" rx="2.35" ry="3.05"/><ellipse cx="373.1" cy="795.0" rx="2.35" ry="3.05"/><ellipse cx="380.0" cy="794.2" rx="2.35" ry="3.05"/><ellipse cx="391.5" cy="795.7" rx="2.35" ry="3.05"/><ellipse cx="470.8" cy="795.0" rx="2.35" ry="3.05"/><ellipse cx="181.0" cy="803.7" rx="2.35" ry="3.05"/><ellipse cx="279.8" cy="800.8" rx="2.35" ry="3.05"/><ellipse cx="256.8" cy="813.3" rx="2.35" ry="3.05"/><ellipse cx="266.0" cy="809.2" rx="2.35" ry="3.05"/><ellipse cx="264.5" cy="833.5" rx="2.35" ry="3.05"/><ellipse cx="271.0" cy="842.4" rx="2.35" ry="3.05"/><ellipse cx="313.0" cy="815.9" rx="2.35" ry="3.05"/><ellipse cx="312.4" cy="837.8" rx="2.35" ry="3.05"/><ellipse cx="318.8" cy="801.4" rx="2.35" ry="3.05"/><ellipse cx="321.1" cy="806.0" rx="2.35" ry="3.05"/><ellipse cx="323.4" cy="812.8" rx="2.35" ry="3.05"/><ellipse cx="347.6" cy="804.6" rx="2.35" ry="3.05"/><ellipse cx="344.8" cy="812.8" rx="2.35" ry="3.05"/><ellipse cx="342.2" cy="821.0" rx="2.35" ry="3.05"/><ellipse cx="356.6" cy="809.0" rx="2.35" ry="3.05"/><ellipse cx="363.9" cy="829.4" rx="2.35" ry="3.05"/><ellipse cx="349.7" cy="842.4" rx="2.35" ry="3.05"/><ellipse cx="354.0" cy="905.6" rx="2.35" ry="3.05"/><ellipse cx="382.0" cy="800.3" rx="2.35" ry="3.05"/><ellipse cx="388.4" cy="801.4" rx="2.35" ry="3.05"/><ellipse cx="375.9" cy="804.9" rx="2.35" ry="3.05"/><ellipse cx="386.9" cy="808.4" rx="2.35" ry="3.05"/><ellipse cx="388.1" cy="809.5" rx="2.35" ry="3.05"/><ellipse cx="370.8" cy="813.3" rx="2.35" ry="3.05"/><ellipse cx="400.7" cy="815.1" rx="2.35" ry="3.05"/><ellipse cx="389.7" cy="820.5" rx="2.35" ry="3.05"/><ellipse cx="384.6" cy="822.5" rx="2.35" ry="3.05"/><ellipse cx="382.0" cy="828.6" rx="2.35" ry="3.05"/><ellipse cx="384.1" cy="837.0" rx="2.35" ry="3.05"/><ellipse cx="398.4" cy="827.1" rx="2.35" ry="3.05"/><ellipse cx="409.1" cy="833.5" rx="2.35" ry="3.05"/><ellipse cx="416.0" cy="843.5" rx="2.35" ry="3.05"/><ellipse cx="422.4" cy="821.7" rx="2.35" ry="3.05"/><ellipse cx="428.5" cy="834.4" rx="2.35" ry="3.05"/><ellipse cx="431.3" cy="808.3" rx="2.35" ry="3.05"/><ellipse cx="441.7" cy="815.9" rx="2.35" ry="3.05"/><ellipse cx="459.1" cy="813.8" rx="2.35" ry="3.05"/><ellipse cx="466.5" cy="808.4" rx="2.35" ry="3.05"/><ellipse cx="477.2" cy="814.4" rx="2.35" ry="3.05"/><ellipse cx="495.3" cy="822.8" rx="2.35" ry="3.05"/><ellipse cx="466.8" cy="834.3" rx="2.35" ry="3.05"/><ellipse cx="505.2" cy="917.4" rx="2.35" ry="3.05"/><ellipse cx="207.1" cy="661.1" rx="2.35" ry="3.05"/><ellipse cx="220.2" cy="660.3" rx="2.35" ry="3.05"/><ellipse cx="229.4" cy="660.3" rx="2.35" ry="3.05"/><ellipse cx="244.0" cy="658.4" rx="2.35" ry="3.05"/><ellipse cx="250.2" cy="658.8" rx="2.35" ry="3.05"/><ellipse cx="257.1" cy="659.2" rx="2.35" ry="3.05"/><ellipse cx="267.1" cy="658.8" rx="2.35" ry="3.05"/><ellipse cx="271.0" cy="660.3" rx="2.35" ry="3.05"/><ellipse cx="280.2" cy="659.5" rx="2.35" ry="3.05"/><ellipse cx="204.8" cy="669.5" rx="2.35" ry="3.05"/><ellipse cx="225.6" cy="671.9" rx="2.35" ry="3.05"/><ellipse cx="222.5" cy="676.5" rx="2.35" ry="3.05"/><ellipse cx="218.6" cy="678.8" rx="2.35" ry="3.05"/><ellipse cx="220.2" cy="682.6" rx="2.35" ry="3.05"/><ellipse cx="230.9" cy="680.3" rx="2.35" ry="3.05"/><ellipse cx="234.0" cy="678.8" rx="2.35" ry="3.05"/><ellipse cx="235.6" cy="674.9" rx="2.35" ry="3.05"/><ellipse cx="239.4" cy="671.1" rx="2.35" ry="3.05"/><ellipse cx="242.5" cy="673.4" rx="2.35" ry="3.05"/><ellipse cx="244.8" cy="666.5" rx="2.35" ry="3.05"/><ellipse cx="251.7" cy="666.9" rx="2.35" ry="3.05"/><ellipse cx="260.2" cy="669.9" rx="2.35" ry="3.05"/><ellipse cx="258.7" cy="678.4" rx="2.35" ry="3.05"/><ellipse cx="265.6" cy="677.2" rx="2.35" ry="3.05"/><ellipse cx="269.4" cy="667.6" rx="2.35" ry="3.05"/><ellipse cx="272.5" cy="662.6" rx="2.35" ry="3.05"/><ellipse cx="274.8" cy="667.2" rx="2.35" ry="3.05"/><ellipse cx="278.7" cy="671.1" rx="2.35" ry="3.05"/><ellipse cx="280.2" cy="675.7" rx="2.35" ry="3.05"/><ellipse cx="284.1" cy="664.9" rx="2.35" ry="3.05"/><ellipse cx="241.7" cy="683.4" rx="2.35" ry="3.05"/><ellipse cx="273.3" cy="684.9" rx="2.35" ry="3.05"/><ellipse cx="205.5" cy="690.3" rx="2.35" ry="3.05"/><ellipse cx="214.0" cy="694.6" rx="2.35" ry="3.05"/><ellipse cx="219.4" cy="700.3" rx="2.35" ry="3.05"/><ellipse cx="205.5" cy="703.4" rx="2.35" ry="3.05"/><ellipse cx="211.7" cy="701.9" rx="2.35" ry="3.05"/><ellipse cx="213.6" cy="709.6" rx="2.35" ry="3.05"/><ellipse cx="229.4" cy="696.5" rx="2.35" ry="3.05"/><ellipse cx="230.9" cy="698.0" rx="2.35" ry="3.05"/><ellipse cx="238.6" cy="690.3" rx="2.35" ry="3.05"/><ellipse cx="244.0" cy="689.6" rx="2.35" ry="3.05"/><ellipse cx="248.7" cy="690.3" rx="2.35" ry="3.05"/><ellipse cx="246.0" cy="699.6" rx="2.35" ry="3.05"/><ellipse cx="251.0" cy="701.9" rx="2.35" ry="3.05"/><ellipse cx="254.8" cy="704.2" rx="2.35" ry="3.05"/><ellipse cx="257.9" cy="703.4" rx="2.35" ry="3.05"/><ellipse cx="262.5" cy="691.9" rx="2.35" ry="3.05"/><ellipse cx="264.8" cy="692.6" rx="2.35" ry="3.05"/><ellipse cx="270.2" cy="697.3" rx="2.35" ry="3.05"/><ellipse cx="274.8" cy="696.5" rx="2.35" ry="3.05"/><ellipse cx="281.0" cy="698.8" rx="2.35" ry="3.05"/><ellipse cx="284.1" cy="694.2" rx="2.35" ry="3.05"/><ellipse cx="265.6" cy="705.7" rx="2.35" ry="3.05"/><ellipse cx="274.8" cy="705.7" rx="2.35" ry="3.05"/><ellipse cx="228.6" cy="708.0" rx="2.35" ry="3.05"/><ellipse cx="226.3" cy="713.4" rx="2.35" ry="3.05"/><ellipse cx="221.7" cy="718.8" rx="2.35" ry="3.05"/><ellipse cx="240.2" cy="710.4" rx="2.35" ry="3.05"/><ellipse cx="237.9" cy="721.9" rx="2.35" ry="3.05"/><ellipse cx="232.5" cy="724.2" rx="2.35" ry="3.05"/><ellipse cx="227.1" cy="726.5" rx="2.35" ry="3.05"/><ellipse cx="246.3" cy="725.8" rx="2.35" ry="3.05"/><ellipse cx="251.0" cy="721.1" rx="2.35" ry="3.05"/><ellipse cx="253.3" cy="722.7" rx="2.35" ry="3.05"/><ellipse cx="259.4" cy="721.9" rx="2.35" ry="3.05"/><ellipse cx="262.5" cy="721.1" rx="2.35" ry="3.05"/><ellipse cx="269.4" cy="719.6" rx="2.35" ry="3.05"/><ellipse cx="271.8" cy="723.4" rx="2.35" ry="3.05"/><ellipse cx="277.1" cy="713.4" rx="2.35" ry="3.05"/><ellipse cx="281.0" cy="714.2" rx="2.35" ry="3.05"/><ellipse cx="282.5" cy="719.6" rx="2.35" ry="3.05"/><ellipse cx="274.8" cy="718.8" rx="2.35" ry="3.05"/><ellipse cx="291.8" cy="659.5" rx="2.35" ry="3.05"/><ellipse cx="305.6" cy="658.4" rx="2.35" ry="3.05"/><ellipse cx="321.4" cy="658.8" rx="2.35" ry="3.05"/><ellipse cx="329.1" cy="659.5" rx="2.35" ry="3.05"/><ellipse cx="336.8" cy="660.3" rx="2.35" ry="3.05"/><ellipse cx="286.8" cy="664.9" rx="2.35" ry="3.05"/><ellipse cx="309.9" cy="665.7" rx="2.35" ry="3.05"/><ellipse cx="312.9" cy="665.3" rx="2.35" ry="3.05"/><ellipse cx="326.0" cy="664.2" rx="2.35" ry="3.05"/><ellipse cx="325.3" cy="670.3" rx="2.35" ry="3.05"/><ellipse cx="335.3" cy="668.0" rx="2.35" ry="3.05"/><ellipse cx="347.6" cy="664.2" rx="2.35" ry="3.05"/><ellipse cx="353.0" cy="661.1" rx="2.35" ry="3.05"/><ellipse cx="356.1" cy="664.2" rx="2.35" ry="3.05"/><ellipse cx="351.4" cy="670.3" rx="2.35" ry="3.05"/><ellipse cx="356.1" cy="672.6" rx="2.35" ry="3.05"/><ellipse cx="358.4" cy="679.6" rx="2.35" ry="3.05"/><ellipse cx="351.4" cy="678.0" rx="2.35" ry="3.05"/><ellipse cx="344.5" cy="681.1" rx="2.35" ry="3.05"/><ellipse cx="365.3" cy="658.8" rx="2.35" ry="3.05"/><ellipse cx="296.4" cy="675.3" rx="2.35" ry="3.05"/><ellipse cx="304.5" cy="676.5" rx="2.35" ry="3.05"/><ellipse cx="311.4" cy="673.4" rx="2.35" ry="3.05"/><ellipse cx="309.9" cy="681.1" rx="2.35" ry="3.05"/><ellipse cx="312.9" cy="686.5" rx="2.35" ry="3.05"/><ellipse cx="324.5" cy="678.8" rx="2.35" ry="3.05"/><ellipse cx="326.0" cy="684.9" rx="2.35" ry="3.05"/><ellipse cx="327.6" cy="687.3" rx="2.35" ry="3.05"/><ellipse cx="332.2" cy="688.8" rx="2.35" ry="3.05"/><ellipse cx="338.4" cy="689.6" rx="2.35" ry="3.05"/><ellipse cx="343.0" cy="689.6" rx="2.35" ry="3.05"/><ellipse cx="355.3" cy="691.1" rx="2.35" ry="3.05"/><ellipse cx="359.1" cy="688.8" rx="2.35" ry="3.05"/><ellipse cx="290.6" cy="691.1" rx="2.35" ry="3.05"/><ellipse cx="291.4" cy="695.7" rx="2.35" ry="3.05"/><ellipse cx="296.0" cy="697.3" rx="2.35" ry="3.05"/><ellipse cx="298.3" cy="702.7" rx="2.35" ry="3.05"/><ellipse cx="302.2" cy="693.4" rx="2.35" ry="3.05"/><ellipse cx="306.0" cy="690.7" rx="2.35" ry="3.05"/><ellipse cx="312.6" cy="692.6" rx="2.35" ry="3.05"/><ellipse cx="312.9" cy="695.7" rx="2.35" ry="3.05"/><ellipse cx="319.1" cy="697.3" rx="2.35" ry="3.05"/><ellipse cx="328.7" cy="696.5" rx="2.35" ry="3.05"/><ellipse cx="309.1" cy="703.4" rx="2.35" ry="3.05"/><ellipse cx="315.3" cy="708.0" rx="2.35" ry="3.05"/><ellipse cx="334.5" cy="702.7" rx="2.35" ry="3.05"/><ellipse cx="339.9" cy="705.7" rx="2.35" ry="3.05"/><ellipse cx="349.1" cy="701.9" rx="2.35" ry="3.05"/><ellipse cx="354.5" cy="701.9" rx="2.35" ry="3.05"/><ellipse cx="359.1" cy="698.0" rx="2.35" ry="3.05"/><ellipse cx="361.5" cy="703.4" rx="2.35" ry="3.05"/><ellipse cx="356.1" cy="708.0" rx="2.35" ry="3.05"/><ellipse cx="287.5" cy="713.4" rx="2.35" ry="3.05"/><ellipse cx="290.6" cy="716.5" rx="2.35" ry="3.05"/><ellipse cx="288.3" cy="719.6" rx="2.35" ry="3.05"/><ellipse cx="297.5" cy="716.5" rx="2.35" ry="3.05"/><ellipse cx="300.6" cy="715.7" rx="2.35" ry="3.05"/><ellipse cx="305.2" cy="716.5" rx="2.35" ry="3.05"/><ellipse cx="315.3" cy="718.1" rx="2.35" ry="3.05"/><ellipse cx="328.3" cy="714.2" rx="2.35" ry="3.05"/><ellipse cx="338.4" cy="713.4" rx="2.35" ry="3.05"/><ellipse cx="347.6" cy="711.1" rx="2.35" ry="3.05"/><ellipse cx="352.2" cy="711.9" rx="2.35" ry="3.05"/><ellipse cx="347.6" cy="718.1" rx="2.35" ry="3.05"/><ellipse cx="352.2" cy="720.4" rx="2.35" ry="3.05"/><ellipse cx="359.9" cy="722.7" rx="2.35" ry="3.05"/><ellipse cx="366.1" cy="718.1" rx="2.35" ry="3.05"/><ellipse cx="299.1" cy="725.8" rx="2.35" ry="3.05"/><ellipse cx="316.8" cy="726.5" rx="2.35" ry="3.05"/><ellipse cx="332.2" cy="725.8" rx="2.35" ry="3.05"/><ellipse cx="227.1" cy="729.5" rx="2.35" ry="3.05"/><ellipse cx="229.4" cy="730.7" rx="2.35" ry="3.05"/><ellipse cx="238.6" cy="730.3" rx="2.35" ry="3.05"/><ellipse cx="244.0" cy="729.5" rx="2.35" ry="3.05"/><ellipse cx="244.8" cy="732.6" rx="2.35" ry="3.05"/><ellipse cx="245.6" cy="736.5" rx="2.35" ry="3.05"/><ellipse cx="271.0" cy="728.4" rx="2.35" ry="3.05"/><ellipse cx="227.1" cy="737.6" rx="2.35" ry="3.05"/><ellipse cx="227.9" cy="745.3" rx="2.35" ry="3.05"/><ellipse cx="240.6" cy="746.5" rx="2.35" ry="3.05"/><ellipse cx="231.7" cy="751.1" rx="2.35" ry="3.05"/><ellipse cx="228.6" cy="755.7" rx="2.35" ry="3.05"/><ellipse cx="221.7" cy="761.5" rx="2.35" ry="3.05"/><ellipse cx="214.0" cy="764.6" rx="2.35" ry="3.05"/><ellipse cx="214.0" cy="768.8" rx="2.35" ry="3.05"/><ellipse cx="231.3" cy="763.8" rx="2.35" ry="3.05"/><ellipse cx="248.7" cy="759.2" rx="2.35" ry="3.05"/><ellipse cx="255.2" cy="760.0" rx="2.35" ry="3.05"/><ellipse cx="261.0" cy="760.3" rx="2.35" ry="3.05"/><ellipse cx="262.5" cy="762.6" rx="2.35" ry="3.05"/><ellipse cx="264.8" cy="764.2" rx="2.35" ry="3.05"/><ellipse cx="260.2" cy="767.7" rx="2.35" ry="3.05"/><ellipse cx="267.9" cy="757.3" rx="2.35" ry="3.05"/><ellipse cx="269.4" cy="748.0" rx="2.35" ry="3.05"/><ellipse cx="276.4" cy="734.9" rx="2.35" ry="3.05"/><ellipse cx="278.7" cy="734.2" rx="2.35" ry="3.05"/><ellipse cx="281.0" cy="741.5" rx="2.35" ry="3.05"/><ellipse cx="285.2" cy="748.0" rx="2.35" ry="3.05"/><ellipse cx="281.0" cy="768.8" rx="2.35" ry="3.05"/><ellipse cx="283.3" cy="771.1" rx="2.35" ry="3.05"/><ellipse cx="284.8" cy="766.5" rx="2.35" ry="3.05"/><ellipse cx="249.8" cy="773.4" rx="2.35" ry="3.05"/><ellipse cx="256.7" cy="775.0" rx="2.35" ry="3.05"/><ellipse cx="271.8" cy="777.3" rx="2.35" ry="3.05"/><ellipse cx="277.1" cy="775.7" rx="2.35" ry="3.05"/><ellipse cx="283.3" cy="781.9" rx="2.35" ry="3.05"/><ellipse cx="230.2" cy="781.9" rx="2.35" ry="3.05"/><ellipse cx="258.7" cy="789.2" rx="2.35" ry="3.05"/><ellipse cx="278.7" cy="796.5" rx="2.35" ry="3.05"/><ellipse cx="288.3" cy="728.8" rx="2.35" ry="3.05"/><ellipse cx="299.1" cy="729.5" rx="2.35" ry="3.05"/><ellipse cx="304.5" cy="732.6" rx="2.35" ry="3.05"/><ellipse cx="294.5" cy="734.9" rx="2.35" ry="3.05"/><ellipse cx="292.9" cy="741.1" rx="2.35" ry="3.05"/><ellipse cx="294.5" cy="743.4" rx="2.35" ry="3.05"/><ellipse cx="306.0" cy="738.0" rx="2.35" ry="3.05"/><ellipse cx="306.8" cy="741.9" rx="2.35" ry="3.05"/><ellipse cx="311.4" cy="731.1" rx="2.35" ry="3.05"/><ellipse cx="314.5" cy="730.3" rx="2.35" ry="3.05"/><ellipse cx="316.8" cy="728.8" rx="2.35" ry="3.05"/><ellipse cx="313.7" cy="736.5" rx="2.35" ry="3.05"/><ellipse cx="316.0" cy="739.5" rx="2.35" ry="3.05"/><ellipse cx="322.2" cy="737.2" rx="2.35" ry="3.05"/><ellipse cx="324.5" cy="729.2" rx="2.35" ry="3.05"/><ellipse cx="329.1" cy="729.5" rx="2.35" ry="3.05"/><ellipse cx="335.3" cy="731.1" rx="2.35" ry="3.05"/><ellipse cx="344.5" cy="731.1" rx="2.35" ry="3.05"/><ellipse cx="341.4" cy="735.7" rx="2.35" ry="3.05"/><ellipse cx="338.4" cy="741.1" rx="2.35" ry="3.05"/><ellipse cx="339.9" cy="743.4" rx="2.35" ry="3.05"/><ellipse cx="348.4" cy="740.3" rx="2.35" ry="3.05"/><ellipse cx="353.0" cy="730.3" rx="2.35" ry="3.05"/><ellipse cx="356.8" cy="731.8" rx="2.35" ry="3.05"/><ellipse cx="359.9" cy="735.7" rx="2.35" ry="3.05"/><ellipse cx="359.9" cy="739.5" rx="2.35" ry="3.05"/><ellipse cx="366.1" cy="735.7" rx="2.35" ry="3.05"/><ellipse cx="366.8" cy="744.9" rx="2.35" ry="3.05"/><ellipse cx="287.5" cy="748.0" rx="2.35" ry="3.05"/><ellipse cx="291.4" cy="751.9" rx="2.35" ry="3.05"/><ellipse cx="294.5" cy="748.8" rx="2.35" ry="3.05"/><ellipse cx="294.5" cy="758.0" rx="2.35" ry="3.05"/><ellipse cx="301.4" cy="761.1" rx="2.35" ry="3.05"/><ellipse cx="302.9" cy="754.2" rx="2.35" ry="3.05"/><ellipse cx="306.8" cy="748.8" rx="2.35" ry="3.05"/><ellipse cx="309.1" cy="752.6" rx="2.35" ry="3.05"/><ellipse cx="307.6" cy="758.8" rx="2.35" ry="3.05"/><ellipse cx="315.3" cy="754.9" rx="2.35" ry="3.05"/><ellipse cx="319.1" cy="756.5" rx="2.35" ry="3.05"/><ellipse cx="322.2" cy="745.7" rx="2.35" ry="3.05"/><ellipse cx="326.0" cy="744.2" rx="2.35" ry="3.05"/><ellipse cx="330.7" cy="743.4" rx="2.35" ry="3.05"/><ellipse cx="324.5" cy="753.4" rx="2.35" ry="3.05"/><ellipse cx="325.3" cy="758.0" rx="2.35" ry="3.05"/><ellipse cx="329.1" cy="752.6" rx="2.35" ry="3.05"/><ellipse cx="332.2" cy="755.7" rx="2.35" ry="3.05"/><ellipse cx="334.5" cy="753.4" rx="2.35" ry="3.05"/><ellipse cx="332.2" cy="763.4" rx="2.35" ry="3.05"/><ellipse cx="338.4" cy="749.6" rx="2.35" ry="3.05"/><ellipse cx="341.4" cy="756.5" rx="2.35" ry="3.05"/><ellipse cx="346.1" cy="757.3" rx="2.35" ry="3.05"/><ellipse cx="346.8" cy="747.2" rx="2.35" ry="3.05"/><ellipse cx="353.0" cy="747.2" rx="2.35" ry="3.05"/><ellipse cx="359.1" cy="747.2" rx="2.35" ry="3.05"/><ellipse cx="351.4" cy="753.4" rx="2.35" ry="3.05"/><ellipse cx="356.8" cy="754.2" rx="2.35" ry="3.05"/><ellipse cx="363.0" cy="756.5" rx="2.35" ry="3.05"/><ellipse cx="351.4" cy="760.3" rx="2.35" ry="3.05"/><ellipse cx="356.1" cy="765.7" rx="2.35" ry="3.05"/><ellipse cx="366.8" cy="761.1" rx="2.35" ry="3.05"/><ellipse cx="287.5" cy="761.1" rx="2.35" ry="3.05"/><ellipse cx="290.6" cy="769.6" rx="2.35" ry="3.05"/><ellipse cx="298.3" cy="775.7" rx="2.35" ry="3.05"/><ellipse cx="307.6" cy="771.9" rx="2.35" ry="3.05"/><ellipse cx="310.6" cy="769.6" rx="2.35" ry="3.05"/><ellipse cx="325.3" cy="774.2" rx="2.35" ry="3.05"/><ellipse cx="333.7" cy="771.1" rx="2.35" ry="3.05"/><ellipse cx="348.4" cy="771.5" rx="2.35" ry="3.05"/><ellipse cx="353.0" cy="773.4" rx="2.35" ry="3.05"/><ellipse cx="358.4" cy="775.7" rx="2.35" ry="3.05"/><ellipse cx="362.2" cy="778.8" rx="2.35" ry="3.05"/><ellipse cx="363.0" cy="769.6" rx="2.35" ry="3.05"/><ellipse cx="350.7" cy="780.4" rx="2.35" ry="3.05"/><ellipse cx="357.6" cy="782.7" rx="2.35" ry="3.05"/><ellipse cx="310.6" cy="783.4" rx="2.35" ry="3.05"/><ellipse cx="292.9" cy="783.4" rx="2.35" ry="3.05"/><ellipse cx="295.2" cy="787.3" rx="2.35" ry="3.05"/><ellipse cx="296.8" cy="791.9" rx="2.35" ry="3.05"/><ellipse cx="328.3" cy="791.1" rx="2.35" ry="3.05"/><ellipse cx="345.3" cy="788.4" rx="2.35" ry="3.05"/><ellipse cx="309.1" cy="795.0" rx="2.35" ry="3.05"/><ellipse cx="359.9" cy="795.0" rx="2.35" ry="3.05"/></g>
<polygon points="63.1,629.3 70.6,631.8 78.1,634.4 85.6,636.9 93.1,639.4 100.6,642.0 108.1,644.5 115.6,647.0 123.1,649.5 130.6,652.1 138.1,654.6 145.6,657.1 153.1,659.6 160.6,662.2 168.1,664.7 175.6,667.2 183.1,669.7 190.6,672.2 198.1,674.7 205.6,677.2 213.1,679.7 220.6,682.2 228.1,684.7 235.6,687.2 243.1,689.6 250.6,692.1 258.1,694.5 265.6,696.9 273.1,699.3 280.6,701.7 288.0,704.0 295.5,706.3 303.0,708.5 310.5,710.7 318.0,712.7 325.5,714.8 333.0,716.8 340.5,718.7 348.0,720.5 355.5,722.4 363.0,724.2 370.5,726.0 378.0,727.7 385.5,729.5 393.0,731.2 400.5,733.0 408.0,734.7 415.5,736.4 423.0,738.1 430.5,739.8 438.0,741.5 445.5,743.2 453.0,744.9 460.5,746.6 468.0,748.3 475.5,749.9 483.0,751.6 490.5,753.3 498.0,755.0 505.5,756.6 505.5,779.9 498.0,777.4 490.5,774.9 483.0,772.4 475.5,769.9 468.0,767.3 460.5,764.8 453.0,762.3 445.5,759.8 438.0,757.3 430.5,754.8 423.0,752.3 415.5,749.8 408.0,747.3 400.5,744.8 393.0,742.3 385.5,739.8 378.0,737.4 370.5,735.0 363.0,732.5 355.5,730.1 348.0,727.8 340.5,725.5 333.0,723.2 325.5,720.9 318.0,718.8 310.5,716.7 303.0,714.6 295.5,712.6 288.0,710.7 280.6,708.8 273.1,707.0 265.6,705.2 258.1,703.4 250.6,701.6 243.1,699.9 235.6,698.1 228.1,696.4 220.6,694.7 213.1,693.0 205.6,691.2 198.1,689.5 190.6,687.8 183.1,686.2 175.6,684.5 168.1,682.8 160.6,681.1 153.1,679.4 145.6,677.7 138.1,676.0 130.6,674.4 123.1,672.7 115.6,671.0 108.1,669.3 100.6,667.7 93.1,666.0 85.6,664.3 78.1,662.6 70.6,661.0 63.1,659.3" fill="#b4b4b4" fill-opacity="0.5" stroke="#b4b4b4" stroke-opacity="0.5" stroke-width="0.8"/>
<line x1="63.1" y1="644.3" x2="505.5" y2="768.3" stroke="#000" stroke-width="1.9"/>
<path d="M41.3 936.0V518.0H527.6V936.0" stroke="#333" stroke-width="1.3" fill="none"/>
<path d="M40.699999999999996 936.0H528.2" stroke="#c8c8c8" stroke-width="2" fill="none"/>
<text transform="translate(739.61,511.40) scale(0.8916,1)" font-size="19.86" fill="#000">(d) VAS vs Lactate</text>
<text transform="translate(597.32,560.00) scale(1.0511,1)" font-size="14.00" fill="#000">ρ = 0.66, p = 0.000</text>
<text transform="translate(771.55,975.20) scale(0.8570,1)" font-size="17.68" fill="#000">VAS (DOMS)</text>
<text transform="translate(553.40,838.40) rotate(-90) scale(1.0009,0.7029)" font-size="20.00">Blood Lactate (mmol/L)</text>
<text x="577.90" y="955.30" font-size="15" text-anchor="middle" transform="translate(17.34,0) scale(0.97,1)">−3</text>
<text x="680.45" y="955.30" font-size="15" text-anchor="middle" transform="translate(20.41,0) scale(0.97,1)">−2</text>
<text x="783.00" y="955.30" font-size="15" text-anchor="middle" transform="translate(23.49,0) scale(0.97,1)">−1</text>
<text x="885.55" y="955.30" font-size="15" text-anchor="middle" transform="translate(26.57,0) scale(0.97,1)">0</text>
<text x="988.10" y="955.30" font-size="15" text-anchor="middle" transform="translate(29.64,0) scale(0.97,1)">1</text>
<text x="567.50" y="914.20" font-size="15" text-anchor="end" transform="translate(17.03,0) scale(0.97,1)">0</text>
<text x="567.50" y="848.16" font-size="15" text-anchor="end" transform="translate(17.03,0) scale(0.97,1)">1</text>
<text x="567.50" y="782.12" font-size="15" text-anchor="end" transform="translate(17.03,0) scale(0.97,1)">2</text>
<text x="567.50" y="716.08" font-size="15" text-anchor="end" transform="translate(17.03,0) scale(0.97,1)">3</text>
<text x="567.50" y="650.04" font-size="15" text-anchor="end" transform="translate(17.03,0) scale(0.97,1)">4</text>
<text x="567.50" y="584.00" font-size="15" text-anchor="end" transform="translate(17.03,0) scale(0.97,1)">5</text>
<path d="M577.90 936.00v3.6 M680.45 936.00v3.6 M783.00 936.00v3.6 M885.55 936.00v3.6 M988.10 936.00v3.6 M573.50 908.90h-3.3 M573.50 842.86h-3.3 M573.50 776.82h-3.3 M573.50 710.78h-3.3 M573.50 644.74h-3.3 M573.50 578.70h-3.3" stroke="#111" stroke-width="1" fill="none"/>
<g fill="rgb(245,45,50)" fill-opacity="0.6" stroke="rgb(232,58,65)" stroke-opacity="0.75" stroke-width="1.0"><ellipse cx="841.6" cy="599.6" rx="2.35" ry="3.05"/><ellipse cx="845.0" cy="612.1" rx="2.35" ry="3.05"/><ellipse cx="858.4" cy="609.5" rx="2.35" ry="3.05"/><ellipse cx="893.3" cy="604.9" rx="2.35" ry="3.05"/><ellipse cx="877.6" cy="617.0" rx="2.35" ry="3.05"/><ellipse cx="867.3" cy="624.8" rx="2.35" ry="3.05"/><ellipse cx="870.4" cy="629.7" rx="2.35" ry="3.05"/><ellipse cx="830.9" cy="625.9" rx="2.35" ry="3.05"/><ellipse cx="832.1" cy="631.6" rx="2.35" ry="3.05"/><ellipse cx="830.1" cy="637.1" rx="2.35" ry="3.05"/><ellipse cx="831.2" cy="643.5" rx="2.35" ry="3.05"/><ellipse cx="792.3" cy="635.1" rx="2.35" ry="3.05"/><ellipse cx="810.2" cy="641.2" rx="2.35" ry="3.05"/><ellipse cx="821.4" cy="646.6" rx="2.35" ry="3.05"/><ellipse cx="827.1" cy="648.1" rx="2.35" ry="3.05"/><ellipse cx="838.5" cy="646.3" rx="2.35" ry="3.05"/><ellipse cx="844.7" cy="645.0" rx="2.35" ry="3.05"/><ellipse cx="857.4" cy="651.6" rx="2.35" ry="3.05"/><ellipse cx="874.1" cy="641.2" rx="2.35" ry="3.05"/><ellipse cx="880.6" cy="634.3" rx="2.35" ry="3.05"/><ellipse cx="882.9" cy="638.9" rx="2.35" ry="3.05"/><ellipse cx="885.2" cy="642.0" rx="2.35" ry="3.05"/><ellipse cx="887.5" cy="640.4" rx="2.35" ry="3.05"/><ellipse cx="889.1" cy="628.2" rx="2.35" ry="3.05"/><ellipse cx="892.1" cy="632.8" rx="2.35" ry="3.05"/><ellipse cx="892.1" cy="637.4" rx="2.35" ry="3.05"/><ellipse cx="897.5" cy="623.9" rx="2.35" ry="3.05"/><ellipse cx="898.2" cy="635.8" rx="2.35" ry="3.05"/><ellipse cx="870.7" cy="650.4" rx="2.35" ry="3.05"/><ellipse cx="876.8" cy="648.9" rx="2.35" ry="3.05"/><ellipse cx="873.7" cy="654.2" rx="2.35" ry="3.05"/><ellipse cx="880.6" cy="653.5" rx="2.35" ry="3.05"/><ellipse cx="889.1" cy="655.0" rx="2.35" ry="3.05"/><ellipse cx="892.1" cy="654.2" rx="2.35" ry="3.05"/><ellipse cx="896.7" cy="654.2" rx="2.35" ry="3.05"/><ellipse cx="809.5" cy="654.2" rx="2.35" ry="3.05"/><ellipse cx="812.5" cy="656.5" rx="2.35" ry="3.05"/><ellipse cx="829.4" cy="655.7" rx="2.35" ry="3.05"/><ellipse cx="855.4" cy="657.3" rx="2.35" ry="3.05"/><ellipse cx="991.3" cy="536.7" rx="2.35" ry="3.05"/><ellipse cx="998.8" cy="552.9" rx="2.35" ry="3.05"/><ellipse cx="953.8" cy="560.4" rx="2.35" ry="3.05"/><ellipse cx="973.7" cy="557.8" rx="2.35" ry="3.05"/><ellipse cx="974.6" cy="559.3" rx="2.35" ry="3.05"/><ellipse cx="937.6" cy="570.0" rx="2.35" ry="3.05"/><ellipse cx="919.2" cy="572.3" rx="2.35" ry="3.05"/><ellipse cx="910.5" cy="580.0" rx="2.35" ry="3.05"/><ellipse cx="959.9" cy="578.5" rx="2.35" ry="3.05"/><ellipse cx="992.1" cy="567.7" rx="2.35" ry="3.05"/><ellipse cx="992.7" cy="574.9" rx="2.35" ry="3.05"/><ellipse cx="992.4" cy="576.9" rx="2.35" ry="3.05"/><ellipse cx="1005.7" cy="579.2" rx="2.35" ry="3.05"/><ellipse cx="1010.0" cy="585.0" rx="2.35" ry="3.05"/><ellipse cx="1037.5" cy="578.9" rx="2.35" ry="3.05"/><ellipse cx="904.8" cy="589.9" rx="2.35" ry="3.05"/><ellipse cx="905.1" cy="597.9" rx="2.35" ry="3.05"/><ellipse cx="921.7" cy="591.2" rx="2.35" ry="3.05"/><ellipse cx="981.6" cy="592.7" rx="2.35" ry="3.05"/><ellipse cx="993.9" cy="589.2" rx="2.35" ry="3.05"/><ellipse cx="998.8" cy="594.2" rx="2.35" ry="3.05"/><ellipse cx="963.7" cy="599.4" rx="2.35" ry="3.05"/><ellipse cx="939.1" cy="604.0" rx="2.35" ry="3.05"/><ellipse cx="913.1" cy="607.5" rx="2.35" ry="3.05"/><ellipse cx="920.4" cy="609.5" rx="2.35" ry="3.05"/><ellipse cx="922.7" cy="614.1" rx="2.35" ry="3.05"/><ellipse cx="928.1" cy="618.2" rx="2.35" ry="3.05"/><ellipse cx="908.9" cy="616.0" rx="2.35" ry="3.05"/><ellipse cx="909.7" cy="617.5" rx="2.35" ry="3.05"/><ellipse cx="914.3" cy="617.5" rx="2.35" ry="3.05"/><ellipse cx="902.1" cy="625.1" rx="2.35" ry="3.05"/><ellipse cx="907.4" cy="622.8" rx="2.35" ry="3.05"/><ellipse cx="915.8" cy="622.8" rx="2.35" ry="3.05"/><ellipse cx="918.9" cy="627.0" rx="2.35" ry="3.05"/><ellipse cx="912.0" cy="630.5" rx="2.35" ry="3.05"/><ellipse cx="913.5" cy="632.0" rx="2.35" ry="3.05"/><ellipse cx="914.3" cy="634.3" rx="2.35" ry="3.05"/><ellipse cx="965.6" cy="613.7" rx="2.35" ry="3.05"/><ellipse cx="970.6" cy="612.9" rx="2.35" ry="3.05"/><ellipse cx="979.4" cy="618.2" rx="2.35" ry="3.05"/><ellipse cx="990.1" cy="611.7" rx="2.35" ry="3.05"/><ellipse cx="1006.9" cy="609.8" rx="2.35" ry="3.05"/><ellipse cx="1028.8" cy="605.2" rx="2.35" ry="3.05"/><ellipse cx="937.0" cy="622.8" rx="2.35" ry="3.05"/><ellipse cx="951.3" cy="623.3" rx="2.35" ry="3.05"/><ellipse cx="1000.0" cy="620.5" rx="2.35" ry="3.05"/><ellipse cx="1004.6" cy="623.6" rx="2.35" ry="3.05"/><ellipse cx="1003.1" cy="627.4" rx="2.35" ry="3.05"/><ellipse cx="988.5" cy="625.9" rx="2.35" ry="3.05"/><ellipse cx="954.1" cy="632.0" rx="2.35" ry="3.05"/><ellipse cx="952.6" cy="637.4" rx="2.35" ry="3.05"/><ellipse cx="955.3" cy="637.7" rx="2.35" ry="3.05"/><ellipse cx="937.3" cy="638.9" rx="2.35" ry="3.05"/><ellipse cx="939.6" cy="644.3" rx="2.35" ry="3.05"/><ellipse cx="924.7" cy="633.1" rx="2.35" ry="3.05"/><ellipse cx="925.8" cy="635.1" rx="2.35" ry="3.05"/><ellipse cx="929.6" cy="639.7" rx="2.35" ry="3.05"/><ellipse cx="916.6" cy="638.9" rx="2.35" ry="3.05"/><ellipse cx="902.1" cy="637.4" rx="2.35" ry="3.05"/><ellipse cx="900.5" cy="644.3" rx="2.35" ry="3.05"/><ellipse cx="901.3" cy="646.6" rx="2.35" ry="3.05"/><ellipse cx="964.0" cy="640.4" rx="2.35" ry="3.05"/><ellipse cx="978.6" cy="640.4" rx="2.35" ry="3.05"/><ellipse cx="1009.5" cy="635.5" rx="2.35" ry="3.05"/><ellipse cx="1027.3" cy="642.7" rx="2.35" ry="3.05"/><ellipse cx="951.0" cy="647.3" rx="2.35" ry="3.05"/><ellipse cx="970.9" cy="647.3" rx="2.35" ry="3.05"/><ellipse cx="972.5" cy="653.5" rx="2.35" ry="3.05"/><ellipse cx="988.1" cy="649.6" rx="2.35" ry="3.05"/><ellipse cx="912.0" cy="648.9" rx="2.35" ry="3.05"/><ellipse cx="917.4" cy="648.1" rx="2.35" ry="3.05"/><ellipse cx="916.6" cy="653.5" rx="2.35" ry="3.05"/><ellipse cx="922.0" cy="654.2" rx="2.35" ry="3.05"/><ellipse cx="930.4" cy="651.9" rx="2.35" ry="3.05"/><ellipse cx="941.1" cy="651.9" rx="2.35" ry="3.05"/><ellipse cx="958.7" cy="651.2" rx="2.35" ry="3.05"/><ellipse cx="953.3" cy="654.2" rx="2.35" ry="3.05"/><ellipse cx="902.1" cy="656.5" rx="2.35" ry="3.05"/><ellipse cx="907.4" cy="655.7" rx="2.35" ry="3.05"/><ellipse cx="948.0" cy="655.7" rx="2.35" ry="3.05"/><ellipse cx="692.8" cy="709.7" rx="2.35" ry="3.05"/><ellipse cx="702.0" cy="723.5" rx="2.35" ry="3.05"/><ellipse cx="694.4" cy="735.0" rx="2.35" ry="3.05"/><ellipse cx="695.3" cy="736.4" rx="2.35" ry="3.05"/><ellipse cx="730.9" cy="718.5" rx="2.35" ry="3.05"/><ellipse cx="735.2" cy="726.9" rx="2.35" ry="3.05"/><ellipse cx="735.2" cy="736.1" rx="2.35" ry="3.05"/><ellipse cx="717.3" cy="743.4" rx="2.35" ry="3.05"/><ellipse cx="695.4" cy="757.9" rx="2.35" ry="3.05"/><ellipse cx="712.3" cy="759.3" rx="2.35" ry="3.05"/><ellipse cx="717.3" cy="769.3" rx="2.35" ry="3.05"/><ellipse cx="732.9" cy="765.1" rx="2.35" ry="3.05"/><ellipse cx="730.3" cy="775.8" rx="2.35" ry="3.05"/><ellipse cx="735.2" cy="782.7" rx="2.35" ry="3.05"/><ellipse cx="735.2" cy="791.9" rx="2.35" ry="3.05"/><ellipse cx="709.2" cy="782.0" rx="2.35" ry="3.05"/><ellipse cx="706.2" cy="795.4" rx="2.35" ry="3.05"/><ellipse cx="670.2" cy="795.0" rx="2.35" ry="3.05"/><ellipse cx="630.9" cy="737.0" rx="2.35" ry="3.05"/><ellipse cx="638.5" cy="776.2" rx="2.35" ry="3.05"/><ellipse cx="631.2" cy="788.9" rx="2.35" ry="3.05"/><ellipse cx="648.3" cy="790.4" rx="2.35" ry="3.05"/><ellipse cx="629.6" cy="797.3" rx="2.35" ry="3.05"/><ellipse cx="921.2" cy="662.6" rx="2.35" ry="3.05"/><ellipse cx="923.5" cy="672.5" rx="2.35" ry="3.05"/><ellipse cx="926.5" cy="670.2" rx="2.35" ry="3.05"/><ellipse cx="931.9" cy="669.5" rx="2.35" ry="3.05"/><ellipse cx="910.5" cy="671.5" rx="2.35" ry="3.05"/><ellipse cx="908.9" cy="681.0" rx="2.35" ry="3.05"/><ellipse cx="914.3" cy="680.2" rx="2.35" ry="3.05"/><ellipse cx="926.2" cy="680.7" rx="2.35" ry="3.05"/><ellipse cx="919.7" cy="685.2" rx="2.35" ry="3.05"/><ellipse cx="911.6" cy="687.1" rx="2.35" ry="3.05"/><ellipse cx="911.6" cy="690.1" rx="2.35" ry="3.05"/><ellipse cx="929.6" cy="686.3" rx="2.35" ry="3.05"/><ellipse cx="933.4" cy="685.5" rx="2.35" ry="3.05"/><ellipse cx="930.4" cy="690.9" rx="2.35" ry="3.05"/><ellipse cx="920.4" cy="694.7" rx="2.35" ry="3.05"/><ellipse cx="915.1" cy="696.3" rx="2.35" ry="3.05"/><ellipse cx="909.7" cy="694.7" rx="2.35" ry="3.05"/><ellipse cx="905.1" cy="698.6" rx="2.35" ry="3.05"/><ellipse cx="900.5" cy="702.4" rx="2.35" ry="3.05"/><ellipse cx="910.5" cy="703.2" rx="2.35" ry="3.05"/><ellipse cx="926.5" cy="699.3" rx="2.35" ry="3.05"/><ellipse cx="924.3" cy="703.2" rx="2.35" ry="3.05"/><ellipse cx="927.3" cy="705.4" rx="2.35" ry="3.05"/><ellipse cx="908.2" cy="707.7" rx="2.35" ry="3.05"/><ellipse cx="902.8" cy="709.3" rx="2.35" ry="3.05"/><ellipse cx="903.6" cy="713.1" rx="2.35" ry="3.05"/><ellipse cx="917.4" cy="709.3" rx="2.35" ry="3.05"/><ellipse cx="921.7" cy="710.8" rx="2.35" ry="3.05"/><ellipse cx="922.0" cy="712.3" rx="2.35" ry="3.05"/><ellipse cx="913.5" cy="714.6" rx="2.35" ry="3.05"/><ellipse cx="914.3" cy="716.9" rx="2.35" ry="3.05"/><ellipse cx="929.3" cy="712.8" rx="2.35" ry="3.05"/><ellipse cx="936.5" cy="700.9" rx="2.35" ry="3.05"/><ellipse cx="943.4" cy="698.1" rx="2.35" ry="3.05"/><ellipse cx="943.4" cy="715.4" rx="2.35" ry="3.05"/><ellipse cx="915.5" cy="723.0" rx="2.35" ry="3.05"/><ellipse cx="929.6" cy="721.5" rx="2.35" ry="3.05"/><ellipse cx="929.6" cy="729.2" rx="2.35" ry="3.05"/><ellipse cx="930.4" cy="736.8" rx="2.35" ry="3.05"/><ellipse cx="909.7" cy="726.1" rx="2.35" ry="3.05"/><ellipse cx="902.1" cy="723.8" rx="2.35" ry="3.05"/><ellipse cx="901.8" cy="736.8" rx="2.35" ry="3.05"/><ellipse cx="909.4" cy="740.6" rx="2.35" ry="3.05"/><ellipse cx="907.9" cy="749.5" rx="2.35" ry="3.05"/><ellipse cx="915.1" cy="749.1" rx="2.35" ry="3.05"/><ellipse cx="926.2" cy="749.8" rx="2.35" ry="3.05"/><ellipse cx="900.5" cy="751.4" rx="2.35" ry="3.05"/><ellipse cx="907.4" cy="769.7" rx="2.35" ry="3.05"/><ellipse cx="909.4" cy="770.5" rx="2.35" ry="3.05"/><ellipse cx="912.0" cy="766.7" rx="2.35" ry="3.05"/><ellipse cx="936.5" cy="769.7" rx="2.35" ry="3.05"/><ellipse cx="908.9" cy="781.7" rx="2.35" ry="3.05"/><ellipse cx="964.8" cy="782.7" rx="2.35" ry="3.05"/><ellipse cx="948.0" cy="732.5" rx="2.35" ry="3.05"/><ellipse cx="958.7" cy="729.2" rx="2.35" ry="3.05"/><ellipse cx="968.2" cy="724.3" rx="2.35" ry="3.05"/><ellipse cx="989.3" cy="717.7" rx="2.35" ry="3.05"/><ellipse cx="961.0" cy="692.4" rx="2.35" ry="3.05"/><ellipse cx="961.4" cy="694.0" rx="2.35" ry="3.05"/><ellipse cx="973.7" cy="686.8" rx="2.35" ry="3.05"/><ellipse cx="993.6" cy="674.8" rx="2.35" ry="3.05"/><ellipse cx="993.6" cy="681.7" rx="2.35" ry="3.05"/><ellipse cx="1002.8" cy="661.8" rx="2.35" ry="3.05"/><ellipse cx="954.9" cy="661.8" rx="2.35" ry="3.05"/><ellipse cx="963.3" cy="664.4" rx="2.35" ry="3.05"/><ellipse cx="967.6" cy="667.5" rx="2.35" ry="3.05"/><ellipse cx="948.0" cy="672.5" rx="2.35" ry="3.05"/><ellipse cx="947.2" cy="677.6" rx="2.35" ry="3.05"/><ellipse cx="685.5" cy="808.4" rx="2.35" ry="3.05"/><ellipse cx="685.8" cy="816.1" rx="2.35" ry="3.05"/><ellipse cx="711.5" cy="807.5" rx="2.35" ry="3.05"/><ellipse cx="713.8" cy="813.3" rx="2.35" ry="3.05"/><ellipse cx="713.0" cy="817.9" rx="2.35" ry="3.05"/><ellipse cx="715.3" cy="820.2" rx="2.35" ry="3.05"/><ellipse cx="729.1" cy="813.3" rx="2.35" ry="3.05"/><ellipse cx="732.9" cy="808.7" rx="2.35" ry="3.05"/><ellipse cx="733.4" cy="817.9" rx="2.35" ry="3.05"/><ellipse cx="666.8" cy="826.8" rx="2.35" ry="3.05"/><ellipse cx="688.1" cy="842.8" rx="2.35" ry="3.05"/><ellipse cx="713.8" cy="866.6" rx="2.35" ry="3.05"/><ellipse cx="666.7" cy="898.6" rx="2.35" ry="3.05"/><ellipse cx="595.7" cy="917.1" rx="2.35" ry="3.05"/><ellipse cx="749.5" cy="800.8" rx="2.35" ry="3.05"/><ellipse cx="754.4" cy="804.9" rx="2.35" ry="3.05"/><ellipse cx="751.3" cy="807.2" rx="2.35" ry="3.05"/><ellipse cx="737.5" cy="811.0" rx="2.35" ry="3.05"/><ellipse cx="739.1" cy="818.7" rx="2.35" ry="3.05"/><ellipse cx="773.5" cy="809.9" rx="2.35" ry="3.05"/><ellipse cx="781.6" cy="808.4" rx="2.35" ry="3.05"/><ellipse cx="801.5" cy="804.1" rx="2.35" ry="3.05"/><ellipse cx="807.2" cy="800.3" rx="2.35" ry="3.05"/><ellipse cx="819.4" cy="806.0" rx="2.35" ry="3.05"/><ellipse cx="801.0" cy="815.6" rx="2.35" ry="3.05"/><ellipse cx="860.7" cy="800.8" rx="2.35" ry="3.05"/><ellipse cx="758.7" cy="823.3" rx="2.35" ry="3.05"/><ellipse cx="759.7" cy="825.5" rx="2.35" ry="3.05"/><ellipse cx="760.5" cy="830.1" rx="2.35" ry="3.05"/><ellipse cx="747.5" cy="832.4" rx="2.35" ry="3.05"/><ellipse cx="778.1" cy="827.1" rx="2.35" ry="3.05"/><ellipse cx="765.1" cy="839.3" rx="2.35" ry="3.05"/><ellipse cx="792.3" cy="847.3" rx="2.35" ry="3.05"/><ellipse cx="760.2" cy="855.4" rx="2.35" ry="3.05"/><ellipse cx="789.1" cy="862.0" rx="2.35" ry="3.05"/><ellipse cx="841.3" cy="830.1" rx="2.35" ry="3.05"/><ellipse cx="804.5" cy="662.2" rx="2.35" ry="3.05"/><ellipse cx="811.8" cy="659.5" rx="2.35" ry="3.05"/><ellipse cx="812.2" cy="661.8" rx="2.35" ry="3.05"/><ellipse cx="768.7" cy="674.2" rx="2.35" ry="3.05"/><ellipse cx="761.4" cy="679.6" rx="2.35" ry="3.05"/><ellipse cx="767.2" cy="682.3" rx="2.35" ry="3.05"/><ellipse cx="780.7" cy="677.2" rx="2.35" ry="3.05"/><ellipse cx="789.1" cy="671.1" rx="2.35" ry="3.05"/><ellipse cx="787.2" cy="677.6" rx="2.35" ry="3.05"/><ellipse cx="788.7" cy="682.6" rx="2.35" ry="3.05"/><ellipse cx="782.6" cy="686.1" rx="2.35" ry="3.05"/><ellipse cx="776.4" cy="690.0" rx="2.35" ry="3.05"/><ellipse cx="797.6" cy="685.7" rx="2.35" ry="3.05"/><ellipse cx="798.0" cy="689.6" rx="2.35" ry="3.05"/><ellipse cx="806.5" cy="674.2" rx="2.35" ry="3.05"/><ellipse cx="815.3" cy="674.9" rx="2.35" ry="3.05"/><ellipse cx="816.8" cy="682.6" rx="2.35" ry="3.05"/><ellipse cx="815.3" cy="692.6" rx="2.35" ry="3.05"/><ellipse cx="745.6" cy="700.0" rx="2.35" ry="3.05"/><ellipse cx="746.0" cy="707.7" rx="2.35" ry="3.05"/><ellipse cx="773.7" cy="701.9" rx="2.35" ry="3.05"/><ellipse cx="803.8" cy="698.0" rx="2.35" ry="3.05"/><ellipse cx="806.8" cy="695.7" rx="2.35" ry="3.05"/><ellipse cx="810.3" cy="701.1" rx="2.35" ry="3.05"/><ellipse cx="810.7" cy="704.2" rx="2.35" ry="3.05"/><ellipse cx="813.8" cy="705.0" rx="2.35" ry="3.05"/><ellipse cx="816.8" cy="707.3" rx="2.35" ry="3.05"/><ellipse cx="752.2" cy="715.4" rx="2.35" ry="3.05"/><ellipse cx="771.8" cy="713.1" rx="2.35" ry="3.05"/><ellipse cx="777.6" cy="711.1" rx="2.35" ry="3.05"/><ellipse cx="790.7" cy="708.8" rx="2.35" ry="3.05"/><ellipse cx="796.1" cy="708.0" rx="2.35" ry="3.05"/><ellipse cx="802.2" cy="711.9" rx="2.35" ry="3.05"/><ellipse cx="802.2" cy="715.7" rx="2.35" ry="3.05"/><ellipse cx="787.2" cy="716.5" rx="2.35" ry="3.05"/><ellipse cx="806.1" cy="718.1" rx="2.35" ry="3.05"/><ellipse cx="813.0" cy="711.9" rx="2.35" ry="3.05"/><ellipse cx="813.8" cy="718.1" rx="2.35" ry="3.05"/><ellipse cx="745.2" cy="722.7" rx="2.35" ry="3.05"/><ellipse cx="736.8" cy="725.8" rx="2.35" ry="3.05"/><ellipse cx="765.3" cy="721.1" rx="2.35" ry="3.05"/><ellipse cx="771.4" cy="722.7" rx="2.35" ry="3.05"/><ellipse cx="780.7" cy="720.4" rx="2.35" ry="3.05"/><ellipse cx="783.7" cy="724.2" rx="2.35" ry="3.05"/><ellipse cx="776.8" cy="725.0" rx="2.35" ry="3.05"/><ellipse cx="796.1" cy="719.6" rx="2.35" ry="3.05"/><ellipse cx="797.6" cy="724.2" rx="2.35" ry="3.05"/><ellipse cx="803.0" cy="722.7" rx="2.35" ry="3.05"/><ellipse cx="805.3" cy="725.0" rx="2.35" ry="3.05"/><ellipse cx="791.4" cy="725.0" rx="2.35" ry="3.05"/><ellipse cx="761.4" cy="726.5" rx="2.35" ry="3.05"/><ellipse cx="821.8" cy="661.1" rx="2.35" ry="3.05"/><ellipse cx="829.5" cy="658.4" rx="2.35" ry="3.05"/><ellipse cx="826.1" cy="664.2" rx="2.35" ry="3.05"/><ellipse cx="828.0" cy="669.5" rx="2.35" ry="3.05"/><ellipse cx="824.2" cy="670.3" rx="2.35" ry="3.05"/><ellipse cx="819.5" cy="671.1" rx="2.35" ry="3.05"/><ellipse cx="823.4" cy="675.3" rx="2.35" ry="3.05"/><ellipse cx="838.8" cy="661.8" rx="2.35" ry="3.05"/><ellipse cx="844.2" cy="660.3" rx="2.35" ry="3.05"/><ellipse cx="843.4" cy="666.5" rx="2.35" ry="3.05"/><ellipse cx="848.8" cy="664.9" rx="2.35" ry="3.05"/><ellipse cx="852.6" cy="665.7" rx="2.35" ry="3.05"/><ellipse cx="855.7" cy="659.5" rx="2.35" ry="3.05"/><ellipse cx="858.8" cy="664.2" rx="2.35" ry="3.05"/><ellipse cx="861.1" cy="665.7" rx="2.35" ry="3.05"/><ellipse cx="877.3" cy="659.5" rx="2.35" ry="3.05"/><ellipse cx="881.1" cy="663.4" rx="2.35" ry="3.05"/><ellipse cx="885.8" cy="664.2" rx="2.35" ry="3.05"/><ellipse cx="890.4" cy="664.2" rx="2.35" ry="3.05"/><ellipse cx="891.9" cy="666.5" rx="2.35" ry="3.05"/><ellipse cx="871.9" cy="668.0" rx="2.35" ry="3.05"/><ellipse cx="869.6" cy="671.1" rx="2.35" ry="3.05"/><ellipse cx="875.0" cy="671.1" rx="2.35" ry="3.05"/><ellipse cx="878.8" cy="671.9" rx="2.35" ry="3.05"/><ellipse cx="888.8" cy="674.2" rx="2.35" ry="3.05"/><ellipse cx="894.2" cy="676.5" rx="2.35" ry="3.05"/><ellipse cx="851.1" cy="677.2" rx="2.35" ry="3.05"/><ellipse cx="859.6" cy="674.2" rx="2.35" ry="3.05"/><ellipse cx="863.4" cy="674.9" rx="2.35" ry="3.05"/><ellipse cx="857.3" cy="681.1" rx="2.35" ry="3.05"/><ellipse cx="861.1" cy="683.4" rx="2.35" ry="3.05"/><ellipse cx="864.2" cy="681.9" rx="2.35" ry="3.05"/><ellipse cx="831.9" cy="684.2" rx="2.35" ry="3.05"/><ellipse cx="837.2" cy="684.9" rx="2.35" ry="3.05"/><ellipse cx="838.8" cy="681.1" rx="2.35" ry="3.05"/><ellipse cx="844.9" cy="686.9" rx="2.35" ry="3.05"/><ellipse cx="879.6" cy="685.7" rx="2.35" ry="3.05"/><ellipse cx="883.4" cy="682.6" rx="2.35" ry="3.05"/><ellipse cx="818.8" cy="682.6" rx="2.35" ry="3.05"/><ellipse cx="818.4" cy="688.8" rx="2.35" ry="3.05"/><ellipse cx="821.8" cy="690.3" rx="2.35" ry="3.05"/><ellipse cx="825.7" cy="694.2" rx="2.35" ry="3.05"/><ellipse cx="828.8" cy="698.0" rx="2.35" ry="3.05"/><ellipse cx="824.2" cy="700.3" rx="2.35" ry="3.05"/><ellipse cx="831.9" cy="704.2" rx="2.35" ry="3.05"/><ellipse cx="835.3" cy="698.4" rx="2.35" ry="3.05"/><ellipse cx="841.9" cy="700.7" rx="2.35" ry="3.05"/><ellipse cx="853.4" cy="695.0" rx="2.35" ry="3.05"/><ellipse cx="861.9" cy="692.6" rx="2.35" ry="3.05"/><ellipse cx="865.7" cy="690.3" rx="2.35" ry="3.05"/><ellipse cx="868.0" cy="692.6" rx="2.35" ry="3.05"/><ellipse cx="864.2" cy="688.8" rx="2.35" ry="3.05"/><ellipse cx="885.8" cy="692.6" rx="2.35" ry="3.05"/><ellipse cx="891.1" cy="691.1" rx="2.35" ry="3.05"/><ellipse cx="888.8" cy="695.0" rx="2.35" ry="3.05"/><ellipse cx="898.1" cy="695.7" rx="2.35" ry="3.05"/><ellipse cx="890.4" cy="702.7" rx="2.35" ry="3.05"/><ellipse cx="895.0" cy="701.1" rx="2.35" ry="3.05"/><ellipse cx="898.8" cy="704.2" rx="2.35" ry="3.05"/><ellipse cx="875.0" cy="699.6" rx="2.35" ry="3.05"/><ellipse cx="878.8" cy="700.3" rx="2.35" ry="3.05"/><ellipse cx="873.4" cy="705.0" rx="2.35" ry="3.05"/><ellipse cx="877.3" cy="708.8" rx="2.35" ry="3.05"/><ellipse cx="881.9" cy="707.3" rx="2.35" ry="3.05"/><ellipse cx="818.4" cy="705.7" rx="2.35" ry="3.05"/><ellipse cx="822.6" cy="707.3" rx="2.35" ry="3.05"/><ellipse cx="828.8" cy="710.4" rx="2.35" ry="3.05"/><ellipse cx="830.3" cy="713.4" rx="2.35" ry="3.05"/><ellipse cx="841.1" cy="708.8" rx="2.35" ry="3.05"/><ellipse cx="863.4" cy="703.4" rx="2.35" ry="3.05"/><ellipse cx="867.3" cy="710.4" rx="2.35" ry="3.05"/><ellipse cx="868.8" cy="713.4" rx="2.35" ry="3.05"/><ellipse cx="850.3" cy="714.2" rx="2.35" ry="3.05"/><ellipse cx="854.2" cy="715.7" rx="2.35" ry="3.05"/><ellipse cx="858.0" cy="716.5" rx="2.35" ry="3.05"/><ellipse cx="862.7" cy="715.0" rx="2.35" ry="3.05"/><ellipse cx="851.1" cy="719.6" rx="2.35" ry="3.05"/><ellipse cx="865.7" cy="718.8" rx="2.35" ry="3.05"/><ellipse cx="875.0" cy="718.8" rx="2.35" ry="3.05"/><ellipse cx="881.1" cy="715.0" rx="2.35" ry="3.05"/><ellipse cx="885.8" cy="714.2" rx="2.35" ry="3.05"/><ellipse cx="889.6" cy="713.4" rx="2.35" ry="3.05"/><ellipse cx="895.0" cy="715.0" rx="2.35" ry="3.05"/><ellipse cx="898.1" cy="716.5" rx="2.35" ry="3.05"/><ellipse cx="835.7" cy="717.3" rx="2.35" ry="3.05"/><ellipse cx="840.3" cy="718.8" rx="2.35" ry="3.05"/><ellipse cx="844.2" cy="715.0" rx="2.35" ry="3.05"/><ellipse cx="842.6" cy="723.4" rx="2.35" ry="3.05"/><ellipse cx="837.2" cy="724.2" rx="2.35" ry="3.05"/><ellipse cx="825.7" cy="724.2" rx="2.35" ry="3.05"/><ellipse cx="847.3" cy="725.8" rx="2.35" ry="3.05"/><ellipse cx="864.2" cy="725.8" rx="2.35" ry="3.05"/><ellipse cx="883.4" cy="721.1" rx="2.35" ry="3.05"/><ellipse cx="884.2" cy="725.8" rx="2.35" ry="3.05"/><ellipse cx="891.9" cy="725.0" rx="2.35" ry="3.05"/><ellipse cx="898.8" cy="723.4" rx="2.35" ry="3.05"/><ellipse cx="737.5" cy="728.8" rx="2.35" ry="3.05"/><ellipse cx="737.2" cy="735.7" rx="2.35" ry="3.05"/><ellipse cx="746.8" cy="734.9" rx="2.35" ry="3.05"/><ellipse cx="749.9" cy="731.1" rx="2.35" ry="3.05"/><ellipse cx="747.5" cy="732.6" rx="2.35" ry="3.05"/><ellipse cx="758.3" cy="732.6" rx="2.35" ry="3.05"/><ellipse cx="760.6" cy="729.5" rx="2.35" ry="3.05"/><ellipse cx="772.2" cy="730.3" rx="2.35" ry="3.05"/><ellipse cx="777.6" cy="729.5" rx="2.35" ry="3.05"/><ellipse cx="783.7" cy="729.5" rx="2.35" ry="3.05"/><ellipse cx="791.4" cy="728.4" rx="2.35" ry="3.05"/><ellipse cx="769.5" cy="740.3" rx="2.35" ry="3.05"/><ellipse cx="781.4" cy="738.8" rx="2.35" ry="3.05"/><ellipse cx="785.3" cy="737.2" rx="2.35" ry="3.05"/><ellipse cx="799.9" cy="732.6" rx="2.35" ry="3.05"/><ellipse cx="803.8" cy="729.5" rx="2.35" ry="3.05"/><ellipse cx="812.2" cy="736.5" rx="2.35" ry="3.05"/><ellipse cx="802.2" cy="741.9" rx="2.35" ry="3.05"/><ellipse cx="806.1" cy="741.1" rx="2.35" ry="3.05"/><ellipse cx="809.1" cy="743.4" rx="2.35" ry="3.05"/><ellipse cx="803.0" cy="750.3" rx="2.35" ry="3.05"/><ellipse cx="806.1" cy="751.9" rx="2.35" ry="3.05"/><ellipse cx="816.1" cy="745.7" rx="2.35" ry="3.05"/><ellipse cx="756.8" cy="747.2" rx="2.35" ry="3.05"/><ellipse cx="760.6" cy="750.3" rx="2.35" ry="3.05"/><ellipse cx="779.1" cy="750.3" rx="2.35" ry="3.05"/><ellipse cx="789.1" cy="749.6" rx="2.35" ry="3.05"/><ellipse cx="793.0" cy="748.8" rx="2.35" ry="3.05"/><ellipse cx="794.5" cy="754.9" rx="2.35" ry="3.05"/><ellipse cx="789.1" cy="758.0" rx="2.35" ry="3.05"/><ellipse cx="791.4" cy="757.3" rx="2.35" ry="3.05"/><ellipse cx="813.0" cy="757.3" rx="2.35" ry="3.05"/><ellipse cx="816.8" cy="758.8" rx="2.35" ry="3.05"/><ellipse cx="766.8" cy="754.9" rx="2.35" ry="3.05"/><ellipse cx="770.6" cy="757.3" rx="2.35" ry="3.05"/><ellipse cx="765.3" cy="763.4" rx="2.35" ry="3.05"/><ellipse cx="766.8" cy="766.5" rx="2.35" ry="3.05"/><ellipse cx="764.5" cy="765.0" rx="2.35" ry="3.05"/><ellipse cx="776.0" cy="762.6" rx="2.35" ry="3.05"/><ellipse cx="752.9" cy="763.4" rx="2.35" ry="3.05"/><ellipse cx="752.2" cy="772.7" rx="2.35" ry="3.05"/><ellipse cx="759.1" cy="775.0" rx="2.35" ry="3.05"/><ellipse cx="762.9" cy="774.2" rx="2.35" ry="3.05"/><ellipse cx="754.5" cy="781.1" rx="2.35" ry="3.05"/><ellipse cx="746.0" cy="785.0" rx="2.35" ry="3.05"/><ellipse cx="737.5" cy="778.0" rx="2.35" ry="3.05"/><ellipse cx="737.5" cy="783.4" rx="2.35" ry="3.05"/><ellipse cx="737.5" cy="792.7" rx="2.35" ry="3.05"/><ellipse cx="783.7" cy="771.9" rx="2.35" ry="3.05"/><ellipse cx="790.7" cy="766.5" rx="2.35" ry="3.05"/><ellipse cx="794.5" cy="769.6" rx="2.35" ry="3.05"/><ellipse cx="799.9" cy="765.7" rx="2.35" ry="3.05"/><ellipse cx="803.0" cy="765.0" rx="2.35" ry="3.05"/><ellipse cx="813.0" cy="769.6" rx="2.35" ry="3.05"/><ellipse cx="816.1" cy="765.7" rx="2.35" ry="3.05"/><ellipse cx="816.8" cy="771.9" rx="2.35" ry="3.05"/><ellipse cx="799.9" cy="774.2" rx="2.35" ry="3.05"/><ellipse cx="796.1" cy="778.0" rx="2.35" ry="3.05"/><ellipse cx="793.7" cy="781.9" rx="2.35" ry="3.05"/><ellipse cx="802.2" cy="776.5" rx="2.35" ry="3.05"/><ellipse cx="807.6" cy="777.3" rx="2.35" ry="3.05"/><ellipse cx="784.5" cy="781.1" rx="2.35" ry="3.05"/><ellipse cx="796.8" cy="786.5" rx="2.35" ry="3.05"/><ellipse cx="809.9" cy="785.0" rx="2.35" ry="3.05"/><ellipse cx="806.1" cy="791.1" rx="2.35" ry="3.05"/><ellipse cx="802.2" cy="793.4" rx="2.35" ry="3.05"/><ellipse cx="762.9" cy="787.3" rx="2.35" ry="3.05"/><ellipse cx="759.1" cy="791.9" rx="2.35" ry="3.05"/><ellipse cx="761.4" cy="795.0" rx="2.35" ry="3.05"/><ellipse cx="771.4" cy="790.4" rx="2.35" ry="3.05"/><ellipse cx="776.0" cy="791.1" rx="2.35" ry="3.05"/><ellipse cx="773.7" cy="793.4" rx="2.35" ry="3.05"/><ellipse cx="806.8" cy="797.3" rx="2.35" ry="3.05"/><ellipse cx="829.5" cy="731.1" rx="2.35" ry="3.05"/><ellipse cx="831.1" cy="732.6" rx="2.35" ry="3.05"/><ellipse cx="828.0" cy="734.2" rx="2.35" ry="3.05"/><ellipse cx="839.6" cy="728.8" rx="2.35" ry="3.05"/><ellipse cx="845.7" cy="731.1" rx="2.35" ry="3.05"/><ellipse cx="844.2" cy="735.7" rx="2.35" ry="3.05"/><ellipse cx="846.5" cy="741.1" rx="2.35" ry="3.05"/><ellipse cx="822.6" cy="738.0" rx="2.35" ry="3.05"/><ellipse cx="834.2" cy="740.3" rx="2.35" ry="3.05"/><ellipse cx="838.4" cy="741.9" rx="2.35" ry="3.05"/><ellipse cx="838.0" cy="748.0" rx="2.35" ry="3.05"/><ellipse cx="855.0" cy="730.3" rx="2.35" ry="3.05"/><ellipse cx="855.7" cy="735.7" rx="2.35" ry="3.05"/><ellipse cx="854.2" cy="740.3" rx="2.35" ry="3.05"/><ellipse cx="852.6" cy="744.2" rx="2.35" ry="3.05"/><ellipse cx="857.3" cy="736.5" rx="2.35" ry="3.05"/><ellipse cx="864.2" cy="728.8" rx="2.35" ry="3.05"/><ellipse cx="864.2" cy="735.7" rx="2.35" ry="3.05"/><ellipse cx="871.1" cy="734.9" rx="2.35" ry="3.05"/><ellipse cx="874.2" cy="732.6" rx="2.35" ry="3.05"/><ellipse cx="871.9" cy="739.5" rx="2.35" ry="3.05"/><ellipse cx="865.7" cy="744.2" rx="2.35" ry="3.05"/><ellipse cx="868.8" cy="747.2" rx="2.35" ry="3.05"/><ellipse cx="879.6" cy="736.5" rx="2.35" ry="3.05"/><ellipse cx="879.6" cy="741.1" rx="2.35" ry="3.05"/><ellipse cx="883.4" cy="734.2" rx="2.35" ry="3.05"/><ellipse cx="887.3" cy="739.5" rx="2.35" ry="3.05"/><ellipse cx="891.9" cy="738.8" rx="2.35" ry="3.05"/><ellipse cx="885.0" cy="728.8" rx="2.35" ry="3.05"/><ellipse cx="891.9" cy="728.8" rx="2.35" ry="3.05"/><ellipse cx="899.6" cy="736.5" rx="2.35" ry="3.05"/><ellipse cx="818.8" cy="746.5" rx="2.35" ry="3.05"/><ellipse cx="822.6" cy="751.9" rx="2.35" ry="3.05"/><ellipse cx="818.8" cy="760.3" rx="2.35" ry="3.05"/><ellipse cx="828.0" cy="757.3" rx="2.35" ry="3.05"/><ellipse cx="836.1" cy="756.1" rx="2.35" ry="3.05"/><ellipse cx="841.1" cy="760.3" rx="2.35" ry="3.05"/><ellipse cx="841.9" cy="763.4" rx="2.35" ry="3.05"/><ellipse cx="847.3" cy="763.4" rx="2.35" ry="3.05"/><ellipse cx="824.2" cy="766.5" rx="2.35" ry="3.05"/><ellipse cx="822.6" cy="774.2" rx="2.35" ry="3.05"/><ellipse cx="818.8" cy="771.1" rx="2.35" ry="3.05"/><ellipse cx="834.9" cy="767.3" rx="2.35" ry="3.05"/><ellipse cx="857.3" cy="752.6" rx="2.35" ry="3.05"/><ellipse cx="866.5" cy="760.3" rx="2.35" ry="3.05"/><ellipse cx="879.6" cy="756.5" rx="2.35" ry="3.05"/><ellipse cx="891.5" cy="754.6" rx="2.35" ry="3.05"/><ellipse cx="898.8" cy="754.2" rx="2.35" ry="3.05"/><ellipse cx="826.9" cy="781.1" rx="2.35" ry="3.05"/><ellipse cx="844.9" cy="786.5" rx="2.35" ry="3.05"/><ellipse cx="848.8" cy="791.9" rx="2.35" ry="3.05"/><ellipse cx="822.6" cy="790.4" rx="2.35" ry="3.05"/><ellipse cx="824.2" cy="795.0" rx="2.35" ry="3.05"/><ellipse cx="860.0" cy="797.3" rx="2.35" ry="3.05"/></g>
<polygon points="595.5,832.7 603.0,829.0 610.5,825.3 618.0,821.5 625.5,817.8 633.0,814.1 640.5,810.4 648.0,806.6 655.5,802.9 663.0,799.2 670.4,795.5 677.9,791.7 685.4,788.0 692.9,784.3 700.4,780.5 707.9,776.8 715.4,773.1 722.9,769.3 730.4,765.6 737.9,761.8 745.4,758.1 752.9,754.3 760.4,750.5 767.9,746.7 775.4,743.0 782.9,739.2 790.4,735.3 797.9,731.5 805.4,727.6 812.9,723.8 820.3,719.9 827.8,715.9 835.3,711.9 842.8,707.9 850.3,703.8 857.8,699.7 865.3,695.6 872.8,691.4 880.3,687.1 887.8,682.9 895.3,678.6 902.8,674.3 910.3,669.9 917.8,665.6 925.3,661.2 932.8,656.9 940.3,652.5 947.8,648.1 955.3,643.7 962.8,639.3 970.2,634.9 977.7,630.5 985.2,626.1 992.7,621.6 1000.2,617.2 1007.7,612.8 1015.2,608.4 1022.7,604.0 1030.2,599.5 1037.7,595.1 1037.7,614.7 1030.2,618.4 1022.7,622.2 1015.2,625.9 1007.7,629.6 1000.2,633.4 992.7,637.1 985.2,640.8 977.7,644.6 970.2,648.3 962.8,652.1 955.3,655.8 947.8,659.6 940.3,663.3 932.8,667.1 925.3,670.9 917.8,674.7 910.3,678.5 902.8,682.3 895.3,686.2 887.8,690.0 880.3,693.9 872.8,697.9 865.3,701.8 857.8,705.8 850.3,709.9 842.8,713.9 835.3,718.1 827.8,722.2 820.3,726.5 812.9,730.7 805.4,735.0 797.9,739.3 790.4,743.6 782.9,748.0 775.4,752.3 767.9,756.7 760.4,761.0 752.9,765.4 745.4,769.8 737.9,774.2 730.4,778.6 722.9,783.0 715.4,787.4 707.9,791.9 700.4,796.3 692.9,800.7 685.4,805.1 677.9,809.5 670.4,814.0 663.0,818.4 655.5,822.8 648.0,827.3 640.5,831.7 633.0,836.1 625.5,840.6 618.0,845.0 610.5,849.4 603.0,853.9 595.5,858.3" fill="#b4b4b4" fill-opacity="0.5" stroke="#b4b4b4" stroke-opacity="0.5" stroke-width="0.8"/>
<line x1="595.5" y1="845.5" x2="1037.7" y2="604.9" stroke="#000" stroke-width="1.9"/>
<path d="M573.5 936.0V518.0H1059.7V936.0" stroke="#333" stroke-width="1.3" fill="none"/>
<path d="M572.9 936.0H1060.3" stroke="#c8c8c8" stroke-width="2" fill="none"/>
</svg></body></html>
